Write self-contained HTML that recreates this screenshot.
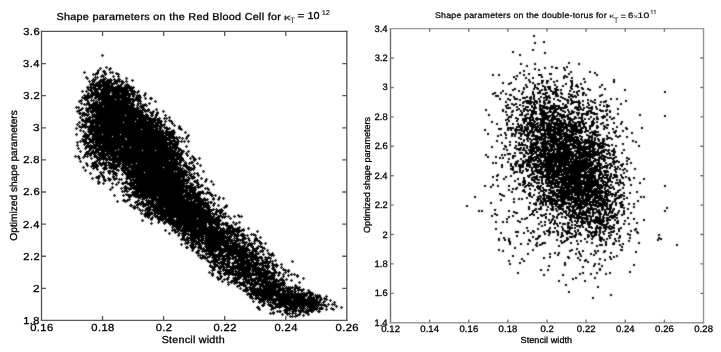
<!DOCTYPE html><html><head><meta charset="utf-8"><style>html,body{margin:0;padding:0;background:#fff;width:721px;height:352px;overflow:hidden}svg{display:block;filter:grayscale(1)}</style></head><body><svg xmlns="http://www.w3.org/2000/svg" width="721" height="352" viewBox="0 0 721 352" font-family="Liberation Sans, sans-serif" shape-rendering="crispEdges" text-rendering="geometricPrecision"><rect width="721" height="352" fill="#fff"/><defs><marker id="p" markerUnits="userSpaceOnUse" markerWidth="3" markerHeight="3" refX="1.5" refY="1.5" overflow="visible"><path d="M0 1.5h3M1.5 0v3" stroke="#000" stroke-width="1"/></marker><marker id="q" markerUnits="userSpaceOnUse" markerWidth="2" markerHeight="2" refX="0" refY="0" overflow="visible"><path d="M0 1h2" stroke="#000" stroke-width="2"/></marker><filter id="b" filterUnits="userSpaceOnUse" x="0" y="0" width="721" height="352" color-interpolation-filters="sRGB"><feConvolveMatrix order="3" kernelMatrix="1 2 1 2 12 2 1 2 1" edgeMode="duplicate"/></filter></defs><g filter="url(#b)"><path transform="translate(.5 .5)" d="M106 67 100 68 110 68 109 69 98 70 103 71 104 71 97 72 110 72 112 72 97 73 105 73 116 73 93 74 95 74 105 74 118 74 102 75 101 76 101 76 101 76 103 76 113 76 118 76 86 77 95 77 95 77 97 77 87 78 105 78 126 78 93 79 95 79 103 79 110 79 114 79 118 79 118 79 119 79 92 80 94 80 100 80 100 80 101 80 107 80 108 80 110 80 111 80 115 80 132 80 89 81 100 81 101 81 102 81 104 81 106 81 107 81 108 81 108 81 115 81 117 81 119 81 121 81 122 81 126 81 126 81 93 82 98 82 99 82 106 82 108 82 109 82 109 82 110 82 114 82 116 82 116 82 123 82 96 83 98 83 103 83 107 83 109 83 111 83 114 83 116 83 122 83 90 84 91 84 92 84 93 84 93 84 95 84 97 84 100 84 103 84 103 84 104 84 104 84 105 84 105 84 112 84 121 84 121 84 127 84 93 85 96 85 97 85 99 85 102 85 104 85 106 85 108 85 118 85 118 85 118 85 120 85 125 85 95 86 98 86 101 86 103 86 104 86 104 86 105 86 105 86 106 86 107 86 110 86 111 86 111 86 118 86 125 86 126 86 128 86 129 86 87 87 88 87 90 87 91 87 100 87 105 87 106 87 106 87 107 87 108 87 108 87 113 87 113 87 115 87 116 87 121 87 127 87 131 87 133 87 93 88 94 88 98 88 99 88 103 88 106 88 111 88 111 88 116 88 116 88 118 88 119 88 119 88 123 88 124 88 124 88 129 88 131 88 88 89 95 89 96 89 100 89 100 89 102 89 106 89 107 89 108 89 108 89 109 89 110 89 114 89 116 89 117 89 119 89 122 89 122 89 124 89 125 89 126 89 90 90 91 90 95 90 95 90 101 90 101 90 104 90 106 90 107 90 108 90 110 90 111 90 111 90 112 90 115 90 116 90 117 90 117 90 118 90 118 90 122 90 123 90 123 90 124 90 124 90 127 90 130 90 132 90 82 91 86 91 86 91 91 91 95 91 96 91 97 91 97 91 97 91 102 91 103 91 105 91 105 91 106 91 106 91 107 91 108 91 110 91 112 91 113 91 113 91 113 91 114 91 115 91 118 91 119 91 120 91 121 91 122 91 127 91 131 91 132 91 133 91 134 91 138 91 92 92 92 92 95 92 96 92 101 92 102 92 104 92 105 92 109 92 109 92 109 92 113 92 114 92 115 92 115 92 115 92 117 92 118 92 124 92 125 92 125 92 126 92 126 92 127 92 127 92 133 92 134 92 137 92 88 93 93 93 95 93 95 93 95 93 96 93 98 93 100 93 100 93 102 93 102 93 105 93 108 93 112 93 113 93 113 93 116 93 116 93 116 93 117 93 122 93 122 93 123 93 125 93 128 93 128 93 132 93 145 93 91 94 92 94 92 94 93 94 99 94 102 94 103 94 104 94 104 94 106 94 106 94 108 94 108 94 108 94 113 94 115 94 116 94 116 94 117 94 117 94 117 94 117 94 119 94 121 94 121 94 121 94 122 94 126 94 128 94 130 94 132 94 134 94 84 95 87 95 91 95 95 95 95 95 96 95 97 95 100 95 101 95 101 95 106 95 109 95 109 95 112 95 113 95 114 95 114 95 116 95 117 95 118 95 118 95 119 95 121 95 121 95 123 95 123 95 124 95 124 95 124 95 125 95 125 95 126 95 137 95 139 95 144 95 85 96 87 96 89 96 91 96 96 96 97 96 98 96 99 96 99 96 100 96 101 96 101 96 102 96 102 96 104 96 108 96 108 96 108 96 108 96 109 96 109 96 109 96 110 96 110 96 111 96 112 96 114 96 114 96 116 96 117 96 118 96 118 96 118 96 119 96 122 96 125 96 125 96 129 96 133 96 137 96 82 97 85 97 89 97 91 97 95 97 95 97 96 97 98 97 100 97 101 97 101 97 102 97 103 97 103 97 104 97 107 97 107 97 108 97 112 97 113 97 114 97 114 97 114 97 114 97 115 97 116 97 118 97 119 97 120 97 121 97 121 97 122 97 123 97 126 97 128 97 136 97 138 97 140 97 84 98 84 98 85 98 87 98 95 98 100 98 101 98 102 98 102 98 102 98 104 98 105 98 105 98 106 98 107 98 109 98 109 98 112 98 113 98 113 98 113 98 113 98 114 98 118 98 119 98 119 98 122 98 122 98 124 98 125 98 128 98 129 98 136 98 137 98 145 98 150 98 151 98 85 99 98 99 98 99 99 99 104 99 105 99 106 99 107 99 108 99 108 99 108 99 108 99 109 99 109 99 109 99 111 99 112 99 118 99 118 99 118 99 125 99 125 99 128 99 129 99 129 99 131 99 132 99 133 99 135 99 136 99 139 99 81 100 87 100 91 100 91 100 93 100 93 100 102 100 103 100 103 100 103 100 105 100 105 100 106 100 109 100 109 100 110 100 112 100 113 100 114 100 116 100 116 100 117 100 117 100 118 100 121 100 122 100 123 100 123 100 124 100 127 100 128 100 129 100 129 100 132 100 133 100 138 100 79 101 96 101 96 101 103 101 107 101 110 101 110 101 111 101 113 101 116 101 119 101 119 101 119 101 120 101 120 101 120 101 124 101 129 101 129 101 133 101 138 101 140 101 155 101 88 102 95 102 97 102 99 102 101 102 101 102 102 102 102 102 103 102 104 102 105 102 106 102 106 102 110 102 110 102 111 102 111 102 111 102 112 102 114 102 115 102 119 102 120 102 120 102 120 102 121 102 122 102 124 102 124 102 125 102 126 102 128 102 132 102 132 102 81 103 87 103 93 103 93 103 94 103 96 103 100 103 102 103 103 103 106 103 106 103 108 103 109 103 109 103 112 103 112 103 112 103 112 103 113 103 116 103 117 103 119 103 119 103 120 103 122 103 122 103 124 103 125 103 130 103 131 103 131 103 132 103 132 103 132 103 138 103 140 103 149 103 84 104 86 104 89 104 92 104 92 104 94 104 94 104 96 104 97 104 99 104 100 104 103 104 103 104 104 104 105 104 107 104 108 104 109 104 110 104 110 104 111 104 111 104 111 104 113 104 114 104 115 104 116 104 118 104 119 104 120 104 121 104 122 104 122 104 123 104 124 104 124 104 125 104 126 104 127 104 131 104 132 104 133 104 145 104 89 105 92 105 93 105 95 105 96 105 97 105 99 105 102 105 102 105 102 105 104 105 107 105 107 105 107 105 109 105 111 105 116 105 116 105 117 105 117 105 119 105 119 105 119 105 119 105 126 105 127 105 127 105 127 105 127 105 128 105 131 105 133 105 137 105 142 105 143 105 144 105 146 105 91 106 93 106 95 106 98 106 99 106 100 106 101 106 105 106 106 106 108 106 109 106 110 106 112 106 112 106 114 106 114 106 114 106 116 106 117 106 117 106 118 106 119 106 119 106 120 106 121 106 122 106 123 106 123 106 124 106 126 106 126 106 126 106 127 106 127 106 130 106 130 106 140 106 76 107 78 107 91 107 92 107 94 107 99 107 102 107 104 107 106 107 108 107 108 107 109 107 110 107 111 107 111 107 112 107 113 107 113 107 116 107 118 107 119 107 120 107 120 107 120 107 123 107 124 107 125 107 125 107 126 107 127 107 127 107 127 107 128 107 128 107 129 107 132 107 137 107 141 107 142 107 82 108 86 108 86 108 88 108 89 108 90 108 92 108 93 108 93 108 94 108 96 108 96 108 97 108 100 108 101 108 101 108 102 108 102 108 102 108 105 108 105 108 105 108 106 108 109 108 110 108 110 108 113 108 113 108 114 108 116 108 116 108 117 108 122 108 123 108 124 108 125 108 127 108 128 108 132 108 133 108 133 108 134 108 138 108 138 108 81 109 93 109 98 109 99 109 99 109 99 109 100 109 101 109 102 109 107 109 107 109 108 109 109 109 109 109 109 109 110 109 110 109 111 109 112 109 112 109 113 109 114 109 115 109 116 109 117 109 119 109 121 109 123 109 129 109 129 109 130 109 131 109 132 109 135 109 136 109 143 109 144 109 148 109 156 109 79 110 86 110 87 110 92 110 95 110 96 110 96 110 97 110 101 110 104 110 104 110 107 110 108 110 108 110 110 110 112 110 113 110 116 110 116 110 116 110 117 110 118 110 119 110 119 110 120 110 122 110 122 110 122 110 123 110 126 110 129 110 129 110 130 110 132 110 132 110 134 110 138 110 140 110 142 110 147 110 148 110 77 111 87 111 88 111 90 111 90 111 91 111 93 111 95 111 95 111 98 111 99 111 99 111 100 111 100 111 102 111 102 111 103 111 104 111 105 111 105 111 108 111 108 111 108 111 110 111 112 111 113 111 113 111 115 111 119 111 119 111 120 111 123 111 124 111 124 111 126 111 126 111 127 111 127 111 128 111 132 111 134 111 136 111 137 111 140 111 145 111 153 111 163 111 91 112 92 112 92 112 97 112 98 112 99 112 99 112 102 112 103 112 103 112 104 112 106 112 106 112 107 112 107 112 107 112 108 112 108 112 109 112 110 112 112 112 114 112 114 112 114 112 115 112 116 112 116 112 116 112 117 112 119 112 119 112 120 112 121 112 121 112 122 112 122 112 124 112 125 112 126 112 126 112 126 112 127 112 130 112 131 112 131 112 134 112 138 112 140 112 142 112 150 112 157 112 79 113 80 113 82 113 83 113 84 113 97 113 100 113 100 113 103 113 104 113 104 113 105 113 107 113 109 113 110 113 110 113 113 113 113 113 114 113 115 113 116 113 117 113 118 113 119 113 124 113 125 113 126 113 126 113 126 113 127 113 128 113 129 113 129 113 130 113 133 113 133 113 135 113 135 113 135 113 141 113 152 113 157 113 84 114 86 114 88 114 94 114 96 114 97 114 99 114 101 114 103 114 105 114 107 114 109 114 110 114 112 114 114 114 118 114 119 114 121 114 121 114 122 114 126 114 126 114 127 114 127 114 128 114 132 114 133 114 134 114 135 114 135 114 137 114 139 114 142 114 146 114 146 114 146 114 156 114 82 115 84 115 84 115 87 115 92 115 95 115 95 115 97 115 98 115 101 115 102 115 102 115 102 115 102 115 103 115 103 115 104 115 106 115 106 115 107 115 107 115 107 115 108 115 108 115 113 115 113 115 114 115 115 115 116 115 116 115 118 115 120 115 121 115 121 115 127 115 127 115 130 115 133 115 134 115 134 115 135 115 135 115 135 115 136 115 137 115 141 115 142 115 143 115 145 115 147 115 147 115 147 115 151 115 152 115 156 115 165 115 94 116 96 116 98 116 100 116 101 116 104 116 104 116 108 116 110 116 111 116 112 116 114 116 115 116 115 116 115 116 117 116 120 116 120 116 121 116 122 116 123 116 123 116 124 116 126 116 129 116 129 116 129 116 129 116 131 116 132 116 133 116 136 116 136 116 137 116 137 116 141 116 142 116 143 116 143 116 143 116 144 116 146 116 146 116 80 117 89 117 90 117 92 117 92 117 96 117 97 117 100 117 102 117 102 117 104 117 104 117 107 117 107 117 107 117 109 117 110 117 111 117 111 117 112 117 113 117 116 117 117 117 117 117 120 117 121 117 121 117 125 117 125 117 125 117 127 117 127 117 129 117 130 117 130 117 131 117 132 117 133 117 133 117 135 117 136 117 138 117 139 117 142 117 145 117 146 117 148 117 155 117 169 117 86 118 89 118 97 118 98 118 102 118 104 118 106 118 106 118 107 118 107 118 107 118 108 118 111 118 111 118 112 118 112 118 114 118 114 118 115 118 116 118 119 118 119 118 122 118 123 118 125 118 127 118 128 118 129 118 130 118 131 118 131 118 132 118 134 118 134 118 135 118 135 118 141 118 142 118 144 118 145 118 145 118 145 118 147 118 150 118 154 118 159 118 164 118 166 118 82 119 89 119 95 119 95 119 96 119 96 119 96 119 98 119 102 119 107 119 109 119 110 119 111 119 113 119 116 119 116 119 117 119 118 119 119 119 120 119 120 119 120 119 121 119 121 119 123 119 125 119 125 119 126 119 127 119 129 119 130 119 131 119 131 119 132 119 132 119 132 119 133 119 134 119 134 119 135 119 136 119 138 119 140 119 140 119 142 119 143 119 145 119 146 119 148 119 150 119 152 119 153 119 153 119 157 119 158 119 158 119 82 120 82 120 85 120 87 120 89 120 92 120 93 120 96 120 98 120 100 120 103 120 104 120 105 120 107 120 108 120 108 120 111 120 111 120 111 120 112 120 113 120 113 120 113 120 114 120 116 120 118 120 118 120 120 120 123 120 123 120 125 120 126 120 126 120 128 120 130 120 131 120 131 120 131 120 132 120 132 120 133 120 133 120 136 120 136 120 137 120 137 120 138 120 139 120 139 120 141 120 141 120 142 120 151 120 155 120 158 120 159 120 169 120 84 121 88 121 88 121 88 121 90 121 91 121 93 121 95 121 96 121 100 121 101 121 103 121 103 121 104 121 104 121 105 121 108 121 108 121 110 121 111 121 111 121 112 121 112 121 113 121 113 121 116 121 117 121 118 121 120 121 121 121 122 121 122 121 125 121 125 121 126 121 127 121 127 121 130 121 130 121 132 121 133 121 138 121 139 121 140 121 140 121 141 121 141 121 144 121 146 121 146 121 149 121 154 121 158 121 161 121 165 121 171 121 79 122 85 122 86 122 90 122 91 122 91 122 94 122 95 122 97 122 98 122 100 122 100 122 101 122 101 122 101 122 102 122 103 122 103 122 105 122 105 122 106 122 106 122 106 122 107 122 108 122 109 122 109 122 112 122 113 122 115 122 115 122 117 122 117 122 117 122 118 122 119 122 121 122 125 122 125 122 126 122 127 122 128 122 129 122 129 122 129 122 130 122 131 122 133 122 133 122 133 122 136 122 136 122 138 122 139 122 139 122 139 122 140 122 141 122 142 122 143 122 144 122 146 122 147 122 149 122 151 122 152 122 153 122 155 122 157 122 160 122 92 123 92 123 92 123 93 123 96 123 99 123 101 123 101 123 101 123 102 123 103 123 104 123 104 123 105 123 106 123 110 123 111 123 111 123 113 123 113 123 114 123 115 123 118 123 119 123 119 123 119 123 120 123 121 123 124 123 124 123 125 123 127 123 128 123 128 123 129 123 129 123 130 123 132 123 135 123 136 123 137 123 137 123 137 123 143 123 143 123 144 123 145 123 147 123 148 123 150 123 151 123 152 123 157 123 160 123 172 123 77 124 77 124 82 124 85 124 91 124 91 124 91 124 96 124 97 124 98 124 98 124 100 124 101 124 101 124 101 124 103 124 105 124 105 124 108 124 109 124 111 124 112 124 113 124 117 124 120 124 121 124 121 124 124 124 124 124 125 124 125 124 125 124 126 124 126 124 128 124 129 124 132 124 132 124 135 124 135 124 135 124 135 124 137 124 138 124 138 124 141 124 142 124 143 124 145 124 148 124 149 124 151 124 153 124 155 124 155 124 164 124 90 125 91 125 95 125 96 125 97 125 97 125 97 125 102 125 104 125 106 125 107 125 108 125 108 125 108 125 109 125 109 125 109 125 110 125 115 125 116 125 117 125 118 125 120 125 120 125 121 125 121 125 122 125 123 125 124 125 124 125 128 125 128 125 130 125 130 125 131 125 131 125 132 125 133 125 134 125 134 125 135 125 136 125 136 125 137 125 139 125 140 125 140 125 142 125 143 125 143 125 144 125 144 125 146 125 146 125 147 125 149 125 150 125 152 125 158 125 161 125 162 125 174 125 79 126 83 126 84 126 86 126 92 126 93 126 94 126 94 126 98 126 98 126 100 126 101 126 102 126 104 126 104 126 105 126 106 126 108 126 111 126 111 126 112 126 113 126 115 126 115 126 116 126 118 126 121 126 123 126 123 126 125 126 126 126 128 126 129 126 129 126 129 126 130 126 130 126 130 126 131 126 132 126 132 126 133 126 134 126 134 126 136 126 136 126 137 126 137 126 137 126 137 126 141 126 141 126 143 126 144 126 144 126 146 126 146 126 146 126 147 126 148 126 148 126 150 126 153 126 154 126 155 126 156 126 157 126 159 126 159 126 160 126 160 126 179 126 81 127 81 127 85 127 88 127 89 127 90 127 92 127 96 127 97 127 98 127 99 127 100 127 101 127 101 127 102 127 103 127 104 127 108 127 109 127 110 127 111 127 111 127 114 127 115 127 116 127 117 127 117 127 119 127 119 127 119 127 120 127 123 127 123 127 124 127 124 127 124 127 125 127 127 127 129 127 130 127 133 127 133 127 134 127 134 127 135 127 136 127 138 127 138 127 139 127 139 127 141 127 141 127 141 127 141 127 142 127 145 127 147 127 148 127 148 127 150 127 150 127 150 127 151 127 151 127 152 127 153 127 153 127 160 127 164 127 164 127 166 127 166 127 179 127 76 128 91 128 92 128 94 128 98 128 99 128 100 128 100 128 100 128 101 128 103 128 103 128 104 128 106 128 107 128 108 128 108 128 109 128 112 128 113 128 113 128 115 128 116 128 121 128 123 128 124 128 126 128 127 128 127 128 127 128 127 128 127 128 128 128 130 128 132 128 133 128 133 128 134 128 135 128 136 128 138 128 139 128 142 128 144 128 145 128 147 128 148 128 149 128 151 128 157 128 157 128 157 128 160 128 166 128 169 128 169 128 179 128 88 129 90 129 91 129 92 129 92 129 92 129 96 129 98 129 98 129 98 129 99 129 99 129 100 129 100 129 100 129 102 129 104 129 106 129 107 129 109 129 110 129 111 129 113 129 115 129 115 129 116 129 118 129 119 129 120 129 120 129 121 129 122 129 122 129 122 129 124 129 125 129 125 129 126 129 126 129 127 129 127 129 129 129 129 129 130 129 130 129 131 129 131 129 132 129 132 129 133 129 134 129 134 129 135 129 137 129 139 129 143 129 143 129 143 129 145 129 145 129 146 129 146 129 147 129 148 129 150 129 150 129 150 129 150 129 152 129 155 129 156 129 156 129 167 129 181 129 80 130 89 130 90 130 91 130 93 130 94 130 95 130 97 130 99 130 99 130 101 130 102 130 102 130 102 130 103 130 103 130 103 130 105 130 106 130 106 130 107 130 108 130 109 130 110 130 111 130 111 130 112 130 112 130 113 130 114 130 115 130 115 130 115 130 117 130 118 130 120 130 120 130 122 130 123 130 123 130 124 130 127 130 128 130 128 130 129 130 130 130 130 130 130 130 134 130 137 130 138 130 138 130 140 130 145 130 145 130 145 130 146 130 146 130 147 130 147 130 147 130 148 130 148 130 148 130 150 130 152 130 154 130 154 130 154 130 154 130 155 130 155 130 159 130 162 130 166 130 173 130 83 131 83 131 83 131 88 131 92 131 97 131 97 131 99 131 99 131 100 131 101 131 102 131 102 131 103 131 103 131 103 131 104 131 105 131 105 131 108 131 110 131 113 131 113 131 114 131 114 131 115 131 117 131 118 131 119 131 119 131 120 131 121 131 122 131 122 131 122 131 123 131 123 131 123 131 126 131 128 131 129 131 131 131 131 131 133 131 135 131 135 131 136 131 136 131 137 131 137 131 138 131 139 131 141 131 142 131 144 131 144 131 145 131 146 131 146 131 147 131 147 131 148 131 148 131 148 131 149 131 150 131 150 131 152 131 152 131 153 131 154 131 154 131 155 131 156 131 156 131 156 131 156 131 157 131 158 131 158 131 159 131 159 131 160 131 161 131 162 131 167 131 171 131 89 132 90 132 91 132 96 132 98 132 99 132 100 132 100 132 101 132 101 132 102 132 105 132 108 132 108 132 109 132 110 132 112 132 114 132 114 132 118 132 118 132 120 132 120 132 121 132 122 132 122 132 123 132 124 132 127 132 128 132 129 132 131 132 131 132 133 132 134 132 134 132 136 132 137 132 138 132 139 132 140 132 141 132 142 132 142 132 142 132 143 132 145 132 145 132 146 132 146 132 150 132 150 132 153 132 154 132 157 132 159 132 162 132 163 132 165 132 167 132 167 132 167 132 169 132 170 132 171 132 172 132 174 132 185 132 85 133 90 133 91 133 94 133 96 133 96 133 96 133 98 133 101 133 104 133 106 133 106 133 108 133 109 133 110 133 115 133 116 133 117 133 119 133 121 133 124 133 125 133 127 133 128 133 129 133 129 133 130 133 132 133 133 133 133 133 134 133 135 133 135 133 136 133 137 133 137 133 138 133 140 133 141 133 142 133 143 133 145 133 145 133 145 133 145 133 146 133 147 133 147 133 149 133 150 133 152 133 153 133 153 133 153 133 154 133 155 133 156 133 156 133 158 133 162 133 163 133 165 133 166 133 167 133 168 133 171 133 76 134 85 134 85 134 89 134 89 134 92 134 94 134 96 134 97 134 98 134 98 134 99 134 99 134 100 134 100 134 104 134 105 134 107 134 109 134 113 134 113 134 114 134 115 134 115 134 116 134 117 134 117 134 117 134 117 134 118 134 118 134 122 134 123 134 124 134 125 134 126 134 127 134 130 134 131 134 132 134 133 134 133 134 135 134 136 134 136 134 137 134 139 134 141 134 141 134 143 134 143 134 143 134 144 134 144 134 145 134 145 134 146 134 147 134 147 134 148 134 148 134 150 134 150 134 154 134 154 134 154 134 155 134 155 134 155 134 155 134 155 134 157 134 158 134 160 134 161 134 161 134 161 134 168 134 170 134 173 134 86 135 87 135 97 135 98 135 98 135 99 135 99 135 100 135 103 135 109 135 109 135 110 135 111 135 114 135 116 135 117 135 118 135 118 135 121 135 122 135 122 135 123 135 123 135 124 135 124 135 125 135 127 135 128 135 130 135 131 135 133 135 134 135 135 135 135 135 139 135 139 135 140 135 140 135 141 135 142 135 142 135 142 135 142 135 142 135 143 135 144 135 144 135 144 135 148 135 149 135 151 135 153 135 153 135 155 135 156 135 156 135 157 135 157 135 157 135 158 135 159 135 160 135 161 135 163 135 166 135 188 135 83 136 84 136 87 136 88 136 93 136 95 136 95 136 97 136 97 136 98 136 99 136 100 136 100 136 102 136 104 136 104 136 104 136 105 136 106 136 106 136 107 136 108 136 114 136 116 136 116 136 117 136 117 136 118 136 120 136 121 136 121 136 122 136 122 136 123 136 124 136 126 136 128 136 128 136 128 136 128 136 129 136 129 136 130 136 131 136 131 136 131 136 132 136 133 136 134 136 136 136 136 136 138 136 138 136 139 136 139 136 139 136 140 136 141 136 141 136 142 136 142 136 142 136 142 136 143 136 144 136 145 136 146 136 146 136 149 136 149 136 150 136 151 136 155 136 155 136 156 136 157 136 157 136 157 136 158 136 158 136 158 136 159 136 159 136 160 136 162 136 162 136 162 136 164 136 164 136 169 136 169 136 171 136 171 136 172 136 173 136 187 136 86 137 92 137 95 137 95 137 95 137 98 137 101 137 101 137 102 137 104 137 109 137 111 137 114 137 115 137 118 137 119 137 121 137 123 137 123 137 123 137 124 137 124 137 124 137 126 137 126 137 127 137 128 137 129 137 129 137 131 137 131 137 133 137 134 137 135 137 139 137 139 137 141 137 142 137 142 137 144 137 146 137 146 137 146 137 147 137 147 137 147 137 147 137 150 137 151 137 153 137 154 137 155 137 155 137 155 137 155 137 156 137 156 137 156 137 156 137 157 137 160 137 162 137 163 137 164 137 164 137 169 137 171 137 176 137 179 137 88 138 94 138 95 138 95 138 95 138 97 138 98 138 98 138 103 138 104 138 104 138 105 138 105 138 107 138 108 138 110 138 110 138 113 138 113 138 114 138 114 138 117 138 117 138 118 138 118 138 119 138 120 138 121 138 122 138 127 138 127 138 128 138 131 138 131 138 133 138 136 138 137 138 138 138 140 138 140 138 141 138 142 138 143 138 143 138 144 138 146 138 147 138 148 138 148 138 148 138 149 138 149 138 150 138 150 138 152 138 153 138 153 138 155 138 155 138 155 138 157 138 157 138 157 138 158 138 158 138 159 138 160 138 161 138 163 138 164 138 165 138 166 138 166 138 167 138 170 138 170 138 173 138 174 138 176 138 182 138 186 138 82 139 85 139 85 139 90 139 93 139 94 139 96 139 96 139 97 139 99 139 100 139 102 139 104 139 104 139 105 139 105 139 106 139 107 139 109 139 109 139 110 139 112 139 112 139 113 139 114 139 116 139 116 139 117 139 121 139 121 139 124 139 129 139 131 139 131 139 132 139 135 139 136 139 136 139 142 139 144 139 144 139 144 139 144 139 145 139 146 139 146 139 147 139 148 139 150 139 151 139 151 139 151 139 153 139 154 139 157 139 157 139 158 139 158 139 160 139 161 139 162 139 162 139 165 139 168 139 169 139 177 139 85 140 90 140 93 140 95 140 95 140 98 140 100 140 101 140 101 140 101 140 105 140 106 140 107 140 108 140 111 140 112 140 113 140 115 140 116 140 116 140 118 140 119 140 119 140 120 140 120 140 121 140 123 140 124 140 124 140 124 140 125 140 125 140 125 140 125 140 127 140 127 140 129 140 130 140 131 140 133 140 135 140 136 140 137 140 139 140 142 140 142 140 142 140 143 140 143 140 144 140 145 140 146 140 146 140 147 140 147 140 147 140 148 140 148 140 148 140 150 140 151 140 151 140 152 140 152 140 153 140 153 140 155 140 155 140 157 140 159 140 159 140 159 140 164 140 166 140 170 140 174 140 80 141 83 141 85 141 85 141 90 141 92 141 92 141 97 141 99 141 99 141 101 141 101 141 103 141 103 141 104 141 106 141 108 141 111 141 114 141 115 141 117 141 118 141 118 141 121 141 122 141 123 141 124 141 124 141 125 141 125 141 125 141 125 141 126 141 127 141 127 141 129 141 130 141 130 141 130 141 131 141 132 141 132 141 134 141 135 141 135 141 135 141 137 141 139 141 139 141 139 141 140 141 140 141 142 141 143 141 144 141 144 141 144 141 145 141 146 141 148 141 149 141 149 141 151 141 152 141 153 141 153 141 154 141 156 141 157 141 158 141 158 141 158 141 159 141 159 141 162 141 163 141 163 141 164 141 172 141 174 141 175 141 178 141 181 141 184 141 188 141 77 142 85 142 89 142 92 142 92 142 93 142 95 142 96 142 97 142 99 142 100 142 100 142 101 142 102 142 103 142 103 142 103 142 103 142 108 142 112 142 115 142 117 142 118 142 120 142 124 142 125 142 127 142 127 142 129 142 130 142 132 142 133 142 134 142 134 142 135 142 135 142 136 142 139 142 140 142 141 142 141 142 142 142 143 142 143 142 146 142 148 142 148 142 150 142 151 142 151 142 152 142 152 142 153 142 153 142 154 142 154 142 155 142 155 142 156 142 158 142 158 142 159 142 159 142 160 142 160 142 161 142 162 142 162 142 163 142 164 142 169 142 169 142 171 142 175 142 87 143 87 143 88 143 99 143 100 143 102 143 102 143 103 143 104 143 105 143 105 143 107 143 107 143 107 143 110 143 111 143 113 143 115 143 115 143 115 143 116 143 116 143 116 143 116 143 117 143 117 143 119 143 120 143 121 143 121 143 123 143 123 143 124 143 124 143 125 143 126 143 126 143 127 143 128 143 129 143 129 143 130 143 130 143 132 143 133 143 134 143 134 143 137 143 137 143 140 143 140 143 140 143 141 143 141 143 142 143 143 143 143 143 143 143 145 143 147 143 147 143 148 143 150 143 150 143 150 143 151 143 151 143 151 143 151 143 153 143 154 143 154 143 156 143 157 143 157 143 159 143 159 143 160 143 160 143 166 143 167 143 169 143 172 143 175 143 177 143 84 144 95 144 96 144 98 144 99 144 103 144 105 144 107 144 107 144 110 144 111 144 111 144 111 144 112 144 113 144 113 144 115 144 115 144 115 144 116 144 116 144 117 144 118 144 118 144 118 144 119 144 120 144 120 144 120 144 121 144 122 144 124 144 126 144 127 144 127 144 127 144 128 144 129 144 130 144 130 144 130 144 130 144 132 144 133 144 133 144 133 144 134 144 135 144 136 144 136 144 137 144 137 144 138 144 141 144 142 144 145 144 145 144 146 144 146 144 147 144 147 144 147 144 148 144 148 144 148 144 151 144 152 144 153 144 153 144 154 144 157 144 158 144 158 144 159 144 159 144 162 144 162 144 162 144 163 144 163 144 164 144 167 144 169 144 170 144 172 144 172 144 172 144 177 144 77 145 88 145 90 145 93 145 94 145 96 145 96 145 97 145 100 145 104 145 104 145 104 145 104 145 106 145 107 145 108 145 108 145 108 145 109 145 111 145 111 145 116 145 117 145 117 145 117 145 117 145 118 145 118 145 119 145 119 145 119 145 120 145 121 145 123 145 123 145 123 145 124 145 126 145 127 145 128 145 128 145 130 145 131 145 135 145 137 145 137 145 141 145 141 145 141 145 141 145 142 145 142 145 143 145 144 145 144 145 145 145 145 145 147 145 150 145 151 145 152 145 153 145 153 145 154 145 155 145 155 145 156 145 157 145 158 145 161 145 162 145 164 145 166 145 169 145 174 145 174 145 175 145 86 146 87 146 92 146 95 146 96 146 99 146 100 146 101 146 102 146 106 146 106 146 106 146 108 146 110 146 111 146 113 146 113 146 114 146 116 146 116 146 116 146 118 146 120 146 126 146 127 146 128 146 128 146 128 146 131 146 131 146 132 146 133 146 133 146 134 146 134 146 135 146 135 146 135 146 136 146 137 146 139 146 140 146 140 146 140 146 140 146 141 146 143 146 144 146 144 146 145 146 145 146 146 146 148 146 148 146 149 146 149 146 150 146 150 146 151 146 151 146 151 146 152 146 153 146 154 146 154 146 154 146 155 146 157 146 157 146 157 146 158 146 159 146 160 146 161 146 161 146 162 146 163 146 163 146 164 146 165 146 166 146 166 146 170 146 170 146 172 146 172 146 175 146 176 146 186 146 89 147 89 147 90 147 91 147 95 147 99 147 99 147 100 147 100 147 100 147 102 147 102 147 102 147 103 147 106 147 106 147 108 147 108 147 110 147 113 147 114 147 116 147 117 147 118 147 124 147 126 147 133 147 136 147 136 147 137 147 138 147 139 147 139 147 140 147 141 147 141 147 141 147 144 147 144 147 144 147 147 147 148 147 149 147 151 147 151 147 151 147 151 147 152 147 152 147 152 147 153 147 155 147 155 147 155 147 155 147 156 147 156 147 158 147 159 147 159 147 159 147 159 147 162 147 163 147 163 147 165 147 166 147 171 147 173 147 177 147 78 148 85 148 90 148 93 148 95 148 98 148 99 148 99 148 99 148 100 148 101 148 104 148 105 148 106 148 108 148 112 148 115 148 116 148 116 148 117 148 119 148 119 148 119 148 119 148 120 148 120 148 120 148 120 148 121 148 122 148 124 148 125 148 126 148 126 148 127 148 129 148 132 148 134 148 134 148 137 148 137 148 137 148 137 148 138 148 138 148 141 148 142 148 142 148 142 148 142 148 143 148 145 148 146 148 148 148 148 148 148 148 150 148 150 148 151 148 151 148 152 148 153 148 154 148 154 148 156 148 157 148 157 148 157 148 157 148 159 148 159 148 165 148 166 148 168 148 169 148 170 148 172 148 175 148 175 148 178 148 178 148 90 149 96 149 99 149 99 149 100 149 101 149 103 149 106 149 106 149 107 149 107 149 109 149 111 149 112 149 114 149 121 149 121 149 125 149 126 149 129 149 130 149 131 149 132 149 134 149 134 149 135 149 137 149 137 149 140 149 140 149 141 149 141 149 146 149 146 149 146 149 147 149 147 149 147 149 148 149 148 149 148 149 150 149 151 149 151 149 152 149 153 149 153 149 154 149 154 149 156 149 158 149 160 149 161 149 161 149 162 149 163 149 166 149 167 149 167 149 168 149 168 149 171 149 171 149 175 149 179 149 180 149 89 150 96 150 97 150 101 150 102 150 102 150 103 150 104 150 105 150 106 150 106 150 108 150 110 150 113 150 117 150 119 150 120 150 120 150 122 150 122 150 123 150 123 150 123 150 125 150 129 150 129 150 130 150 130 150 130 150 134 150 134 150 134 150 137 150 137 150 138 150 144 150 145 150 146 150 147 150 147 150 149 150 149 150 151 150 152 150 152 150 157 150 157 150 157 150 158 150 160 150 161 150 162 150 165 150 165 150 166 150 166 150 167 150 168 150 169 150 172 150 174 150 175 150 181 150 80 151 88 151 92 151 93 151 95 151 96 151 97 151 97 151 104 151 104 151 106 151 108 151 109 151 111 151 113 151 116 151 118 151 119 151 121 151 121 151 122 151 123 151 126 151 127 151 130 151 130 151 131 151 133 151 134 151 135 151 135 151 135 151 136 151 136 151 136 151 137 151 138 151 140 151 140 151 140 151 140 151 143 151 143 151 143 151 144 151 145 151 145 151 147 151 148 151 149 151 152 151 153 151 154 151 158 151 159 151 162 151 163 151 164 151 165 151 168 151 168 151 170 151 171 151 172 151 172 151 173 151 174 151 174 151 178 151 183 151 188 151 86 152 92 152 94 152 95 152 98 152 98 152 98 152 101 152 103 152 107 152 110 152 110 152 111 152 113 152 113 152 114 152 115 152 115 152 117 152 118 152 121 152 121 152 125 152 125 152 125 152 126 152 126 152 129 152 129 152 130 152 130 152 131 152 131 152 131 152 131 152 132 152 135 152 135 152 135 152 136 152 136 152 136 152 139 152 139 152 139 152 140 152 141 152 144 152 145 152 145 152 149 152 150 152 150 152 151 152 152 152 153 152 155 152 155 152 156 152 158 152 159 152 159 152 161 152 161 152 161 152 163 152 164 152 164 152 164 152 165 152 168 152 173 152 174 152 175 152 181 152 87 153 90 153 93 153 93 153 94 153 94 153 95 153 99 153 101 153 103 153 103 153 104 153 106 153 109 153 113 153 115 153 116 153 116 153 117 153 117 153 119 153 119 153 120 153 120 153 123 153 123 153 123 153 124 153 124 153 124 153 124 153 126 153 130 153 133 153 134 153 135 153 138 153 138 153 138 153 142 153 143 153 145 153 146 153 147 153 148 153 149 153 149 153 149 153 156 153 156 153 157 153 160 153 160 153 160 153 161 153 162 153 162 153 163 153 163 153 163 153 164 153 166 153 166 153 168 153 170 153 170 153 171 153 173 153 177 153 181 153 186 153 85 154 87 154 90 154 98 154 99 154 100 154 103 154 103 154 103 154 104 154 105 154 106 154 106 154 106 154 107 154 108 154 108 154 108 154 111 154 111 154 112 154 112 154 113 154 113 154 113 154 114 154 115 154 116 154 116 154 117 154 119 154 120 154 120 154 121 154 122 154 125 154 126 154 126 154 126 154 127 154 128 154 129 154 130 154 133 154 135 154 136 154 136 154 136 154 136 154 137 154 138 154 139 154 140 154 141 154 142 154 142 154 143 154 143 154 143 154 146 154 147 154 147 154 147 154 148 154 149 154 150 154 151 154 152 154 153 154 154 154 154 154 155 154 156 154 156 154 157 154 158 154 158 154 161 154 162 154 162 154 164 154 165 154 166 154 166 154 167 154 167 154 170 154 172 154 173 154 174 154 176 154 179 154 181 154 90 155 95 155 102 155 111 155 113 155 115 155 118 155 119 155 121 155 121 155 123 155 123 155 123 155 125 155 125 155 125 155 126 155 126 155 126 155 127 155 130 155 131 155 133 155 134 155 134 155 137 155 139 155 140 155 141 155 141 155 141 155 142 155 142 155 143 155 143 155 144 155 145 155 145 155 146 155 148 155 149 155 152 155 154 155 155 155 155 155 156 155 157 155 157 155 158 155 158 155 159 155 161 155 162 155 162 155 163 155 164 155 165 155 165 155 166 155 166 155 166 155 169 155 170 155 170 155 173 155 174 155 174 155 174 155 176 155 177 155 177 155 179 155 179 155 179 155 179 155 187 155 75 156 78 156 84 156 87 156 94 156 100 156 103 156 103 156 108 156 110 156 110 156 110 156 112 156 115 156 119 156 123 156 128 156 128 156 130 156 130 156 131 156 132 156 134 156 134 156 135 156 135 156 136 156 136 156 137 156 138 156 139 156 139 156 141 156 141 156 143 156 143 156 145 156 146 156 147 156 150 156 152 156 153 156 155 156 155 156 157 156 157 156 160 156 160 156 160 156 161 156 164 156 166 156 166 156 168 156 169 156 169 156 171 156 172 156 173 156 173 156 174 156 174 156 174 156 178 156 180 156 192 156 83 157 96 157 97 157 99 157 103 157 104 157 105 157 105 157 115 157 116 157 116 157 118 157 118 157 119 157 120 157 121 157 122 157 122 157 123 157 126 157 127 157 128 157 130 157 130 157 133 157 134 157 137 157 138 157 141 157 142 157 144 157 147 157 147 157 148 157 148 157 148 157 148 157 150 157 151 157 152 157 154 157 156 157 158 157 159 157 159 157 161 157 161 157 161 157 163 157 163 157 165 157 166 157 167 157 167 157 168 157 169 157 169 157 170 157 172 157 172 157 173 157 178 157 178 157 179 157 193 157 79 158 91 158 97 158 99 158 100 158 101 158 102 158 104 158 106 158 108 158 109 158 109 158 110 158 112 158 112 158 113 158 113 158 114 158 115 158 116 158 118 158 119 158 120 158 121 158 122 158 122 158 124 158 124 158 125 158 126 158 127 158 129 158 130 158 130 158 131 158 132 158 132 158 134 158 135 158 135 158 136 158 136 158 137 158 137 158 138 158 138 158 139 158 140 158 141 158 141 158 142 158 143 158 145 158 146 158 146 158 148 158 149 158 150 158 151 158 152 158 155 158 155 158 156 158 156 158 156 158 156 158 157 158 157 158 157 158 158 158 159 158 159 158 164 158 165 158 166 158 166 158 167 158 167 158 167 158 169 158 169 158 170 158 170 158 171 158 173 158 173 158 173 158 174 158 174 158 176 158 177 158 178 158 178 158 179 158 181 158 182 158 182 158 190 158 194 158 199 158 98 159 103 159 103 159 105 159 106 159 109 159 110 159 110 159 113 159 113 159 114 159 114 159 116 159 116 159 117 159 117 159 117 159 120 159 124 159 124 159 125 159 125 159 126 159 127 159 130 159 133 159 133 159 134 159 135 159 135 159 136 159 137 159 138 159 139 159 139 159 141 159 141 159 142 159 142 159 145 159 145 159 145 159 146 159 146 159 147 159 148 159 151 159 152 159 152 159 153 159 153 159 153 159 154 159 156 159 156 159 157 159 161 159 161 159 162 159 162 159 164 159 166 159 166 159 167 159 168 159 168 159 170 159 171 159 172 159 173 159 174 159 194 159 195 159 97 160 99 160 106 160 112 160 113 160 119 160 121 160 121 160 122 160 123 160 123 160 124 160 125 160 125 160 128 160 128 160 129 160 130 160 130 160 130 160 131 160 135 160 136 160 136 160 139 160 140 160 141 160 142 160 143 160 143 160 144 160 144 160 145 160 145 160 146 160 146 160 146 160 146 160 147 160 149 160 149 160 149 160 151 160 152 160 152 160 153 160 153 160 155 160 156 160 158 160 158 160 158 160 159 160 159 160 160 160 160 160 160 160 165 160 165 160 171 160 172 160 174 160 174 160 176 160 176 160 176 160 180 160 183 160 194 160 80 161 96 161 113 161 115 161 117 161 118 161 120 161 120 161 123 161 123 161 126 161 126 161 127 161 127 161 128 161 129 161 132 161 134 161 135 161 136 161 138 161 141 161 141 161 144 161 144 161 144 161 145 161 146 161 146 161 147 161 147 161 148 161 150 161 150 161 152 161 153 161 154 161 156 161 157 161 158 161 158 161 159 161 159 161 161 161 161 161 162 161 162 161 163 161 163 161 165 161 166 161 168 161 170 161 172 161 172 161 172 161 173 161 174 161 175 161 175 161 176 161 180 161 94 162 99 162 103 162 106 162 108 162 113 162 113 162 114 162 117 162 117 162 118 162 123 162 123 162 123 162 125 162 128 162 129 162 132 162 132 162 135 162 138 162 139 162 140 162 140 162 140 162 141 162 141 162 141 162 143 162 143 162 144 162 145 162 145 162 148 162 149 162 151 162 151 162 152 162 153 162 153 162 154 162 154 162 155 162 155 162 155 162 156 162 159 162 159 162 161 162 162 162 163 162 163 162 164 162 164 162 165 162 165 162 165 162 166 162 166 162 166 162 168 162 172 162 173 162 174 162 176 162 176 162 176 162 179 162 180 162 180 162 185 162 191 162 191 162 192 162 86 163 92 163 95 163 99 163 100 163 102 163 110 163 112 163 113 163 119 163 120 163 120 163 122 163 126 163 128 163 128 163 129 163 129 163 129 163 130 163 132 163 133 163 134 163 134 163 138 163 139 163 139 163 140 163 140 163 140 163 141 163 143 163 145 163 146 163 146 163 148 163 149 163 150 163 151 163 151 163 153 163 154 163 155 163 156 163 156 163 156 163 158 163 158 163 159 163 160 163 160 163 160 163 160 163 164 163 164 163 166 163 166 163 168 163 168 163 169 163 170 163 170 163 171 163 171 163 171 163 173 163 175 163 178 163 178 163 179 163 185 163 189 163 197 163 95 164 104 164 105 164 109 164 111 164 113 164 114 164 117 164 123 164 124 164 124 164 126 164 126 164 128 164 128 164 137 164 138 164 138 164 138 164 138 164 139 164 140 164 141 164 142 164 142 164 143 164 144 164 144 164 145 164 145 164 146 164 148 164 148 164 148 164 149 164 149 164 150 164 152 164 155 164 156 164 157 164 158 164 161 164 161 164 161 164 162 164 162 164 163 164 164 164 165 164 165 164 166 164 166 164 167 164 168 164 168 164 168 164 170 164 171 164 172 164 175 164 175 164 176 164 179 164 179 164 87 165 93 165 97 165 101 165 106 165 106 165 109 165 110 165 113 165 114 165 117 165 118 165 118 165 122 165 125 165 125 165 128 165 128 165 130 165 132 165 133 165 135 165 136 165 137 165 138 165 138 165 139 165 139 165 141 165 142 165 145 165 145 165 145 165 146 165 148 165 149 165 149 165 149 165 150 165 150 165 150 165 151 165 151 165 152 165 154 165 155 165 155 165 156 165 156 165 156 165 156 165 157 165 158 165 159 165 159 165 161 165 161 165 161 165 161 165 165 165 166 165 166 165 167 165 167 165 169 165 171 165 171 165 173 165 174 165 174 165 174 165 174 165 175 165 176 165 180 165 183 165 184 165 185 165 186 165 186 165 193 165 200 165 91 166 95 166 95 166 97 166 105 166 112 166 114 166 116 166 116 166 117 166 119 166 124 166 125 166 129 166 129 166 131 166 131 166 132 166 133 166 134 166 136 166 136 166 137 166 139 166 143 166 146 166 147 166 147 166 149 166 150 166 152 166 153 166 153 166 154 166 155 166 156 166 156 166 157 166 158 166 158 166 160 166 160 166 160 166 161 166 162 166 162 166 162 166 164 166 167 166 169 166 169 166 169 166 169 166 170 166 170 166 171 166 172 166 173 166 173 166 174 166 177 166 185 166 187 166 187 166 83 167 94 167 96 167 109 167 116 167 122 167 123 167 124 167 125 167 126 167 128 167 130 167 131 167 131 167 132 167 133 167 135 167 135 167 136 167 137 167 137 167 138 167 140 167 140 167 142 167 142 167 143 167 144 167 145 167 147 167 148 167 148 167 148 167 149 167 150 167 150 167 152 167 152 167 155 167 155 167 157 167 159 167 160 167 160 167 160 167 161 167 165 167 166 167 167 167 168 167 168 167 169 167 170 167 171 167 172 167 176 167 177 167 186 167 186 167 189 167 194 167 93 168 103 168 104 168 105 168 106 168 111 168 113 168 114 168 121 168 121 168 123 168 125 168 125 168 126 168 126 168 132 168 132 168 133 168 135 168 135 168 136 168 137 168 137 168 138 168 138 168 138 168 140 168 141 168 141 168 141 168 146 168 149 168 151 168 151 168 151 168 153 168 154 168 154 168 157 168 157 168 158 168 158 168 160 168 161 168 161 168 164 168 166 168 169 168 169 168 169 168 170 168 171 168 171 168 175 168 175 168 175 168 179 168 180 168 180 168 182 168 188 168 188 168 189 168 191 168 97 169 104 169 116 169 116 169 122 169 127 169 135 169 136 169 137 169 137 169 138 169 139 169 140 169 140 169 140 169 142 169 142 169 142 169 143 169 144 169 144 169 144 169 144 169 145 169 145 169 146 169 147 169 148 169 149 169 149 169 149 169 150 169 150 169 151 169 151 169 152 169 153 169 154 169 154 169 155 169 155 169 155 169 156 169 157 169 157 169 158 169 159 169 160 169 161 169 162 169 166 169 167 169 170 169 171 169 171 169 171 169 171 169 172 169 172 169 173 169 174 169 175 169 175 169 177 169 178 169 178 169 179 169 180 169 181 169 188 169 189 169 191 169 193 169 85 170 118 170 122 170 123 170 124 170 125 170 125 170 129 170 131 170 132 170 133 170 134 170 136 170 137 170 137 170 137 170 138 170 138 170 138 170 140 170 142 170 143 170 145 170 145 170 146 170 147 170 148 170 150 170 152 170 152 170 153 170 154 170 154 170 154 170 155 170 156 170 156 170 158 170 159 170 159 170 159 170 160 170 164 170 165 170 166 170 167 170 168 170 168 170 169 170 170 170 170 170 173 170 173 170 173 170 175 170 175 170 178 170 179 170 180 170 180 170 182 170 184 170 189 170 189 170 108 171 109 171 110 171 112 171 113 171 123 171 123 171 129 171 132 171 132 171 134 171 137 171 138 171 138 171 139 171 139 171 141 171 141 171 142 171 142 171 143 171 143 171 146 171 147 171 147 171 147 171 148 171 148 171 149 171 150 171 150 171 151 171 152 171 153 171 155 171 155 171 156 171 156 171 157 171 158 171 160 171 162 171 162 171 164 171 166 171 167 171 168 171 168 171 169 171 169 171 170 171 171 171 171 171 172 171 172 171 178 171 178 171 180 171 181 171 186 171 203 171 100 172 103 172 113 172 114 172 114 172 124 172 127 172 128 172 131 172 133 172 133 172 136 172 136 172 136 172 137 172 138 172 138 172 140 172 141 172 146 172 147 172 148 172 149 172 150 172 150 172 151 172 153 172 156 172 159 172 160 172 162 172 164 172 165 172 165 172 166 172 166 172 167 172 167 172 167 172 168 172 170 172 170 172 171 172 171 172 173 172 177 172 178 172 178 172 183 172 185 172 186 172 189 172 90 173 109 173 115 173 116 173 126 173 126 173 127 173 129 173 133 173 133 173 135 173 138 173 138 173 141 173 143 173 146 173 147 173 148 173 150 173 152 173 154 173 155 173 155 173 156 173 157 173 159 173 161 173 162 173 163 173 163 173 164 173 165 173 166 173 166 173 168 173 168 173 169 173 169 173 171 173 172 173 172 173 172 173 175 173 175 173 177 173 177 173 178 173 179 173 179 173 179 173 179 173 180 173 182 173 194 173 197 173 101 174 113 174 122 174 126 174 128 174 132 174 133 174 133 174 134 174 135 174 136 174 137 174 139 174 139 174 143 174 144 174 144 174 144 174 144 174 145 174 145 174 145 174 145 174 146 174 148 174 149 174 151 174 151 174 153 174 154 174 155 174 156 174 156 174 158 174 158 174 158 174 158 174 159 174 160 174 161 174 163 174 164 174 164 174 166 174 167 174 168 174 168 174 169 174 170 174 170 174 170 174 170 174 174 174 175 174 179 174 180 174 180 174 181 174 181 174 182 174 182 174 183 174 183 174 183 174 184 174 184 174 185 174 186 174 189 174 191 174 191 174 102 175 102 175 116 175 129 175 129 175 130 175 131 175 136 175 136 175 136 175 137 175 137 175 139 175 140 175 141 175 143 175 143 175 144 175 145 175 147 175 148 175 148 175 149 175 149 175 151 175 151 175 151 175 152 175 153 175 154 175 155 175 156 175 157 175 157 175 158 175 158 175 158 175 158 175 158 175 159 175 161 175 161 175 161 175 162 175 162 175 165 175 167 175 167 175 167 175 168 175 168 175 168 175 169 175 171 175 172 175 173 175 174 175 175 175 175 175 177 175 177 175 179 175 180 175 180 175 182 175 184 175 186 175 190 175 198 175 98 176 99 176 103 176 113 176 127 176 128 176 129 176 129 176 130 176 131 176 132 176 134 176 134 176 136 176 139 176 139 176 147 176 148 176 148 176 148 176 148 176 149 176 151 176 152 176 152 176 152 176 153 176 153 176 156 176 157 176 158 176 158 176 159 176 160 176 161 176 161 176 162 176 163 176 163 176 163 176 165 176 168 176 169 176 169 176 170 176 173 176 173 176 174 176 175 176 176 176 179 176 180 176 180 176 181 176 182 176 182 176 183 176 183 176 183 176 191 176 193 176 96 177 103 177 113 177 132 177 133 177 135 177 137 177 139 177 140 177 140 177 141 177 142 177 143 177 143 177 144 177 144 177 145 177 145 177 146 177 147 177 148 177 149 177 149 177 149 177 152 177 152 177 152 177 153 177 153 177 155 177 157 177 159 177 160 177 163 177 164 177 164 177 167 177 167 177 169 177 169 177 170 177 170 177 171 177 172 177 173 177 175 177 177 177 177 177 177 177 182 177 183 177 188 177 194 177 92 178 98 178 108 178 116 178 126 178 127 178 129 178 137 178 138 178 143 178 143 178 145 178 145 178 146 178 147 178 149 178 154 178 157 178 157 178 157 178 157 178 160 178 160 178 160 178 161 178 161 178 162 178 162 178 163 178 166 178 166 178 166 178 167 178 172 178 174 178 176 178 177 178 177 178 178 178 179 178 189 178 192 178 201 178 104 179 110 179 110 179 114 179 119 179 121 179 130 179 132 179 135 179 136 179 136 179 137 179 139 179 139 179 140 179 140 179 142 179 142 179 142 179 143 179 143 179 146 179 146 179 146 179 147 179 148 179 149 179 149 179 150 179 151 179 151 179 153 179 153 179 154 179 155 179 156 179 158 179 159 179 160 179 160 179 160 179 161 179 161 179 161 179 164 179 166 179 169 179 170 179 170 179 170 179 170 179 171 179 171 179 172 179 173 179 174 179 175 179 175 179 176 179 176 179 177 179 177 179 178 179 180 179 184 179 186 179 206 179 104 180 105 180 109 180 131 180 133 180 134 180 134 180 137 180 139 180 140 180 140 180 141 180 142 180 144 180 144 180 145 180 145 180 146 180 147 180 147 180 147 180 148 180 148 180 149 180 149 180 151 180 151 180 151 180 152 180 153 180 153 180 154 180 156 180 156 180 156 180 158 180 158 180 161 180 161 180 163 180 164 180 165 180 165 180 165 180 166 180 166 180 167 180 171 180 174 180 175 180 180 180 182 180 182 180 183 180 184 180 188 180 188 180 197 180 98 181 126 181 135 181 136 181 137 181 143 181 143 181 144 181 147 181 148 181 148 181 149 181 149 181 149 181 151 181 151 181 152 181 152 181 153 181 153 181 154 181 154 181 155 181 157 181 158 181 158 181 159 181 163 181 164 181 166 181 166 181 168 181 173 181 175 181 177 181 177 181 178 181 183 181 184 181 184 181 186 181 194 181 195 181 205 181 211 181 99 182 118 182 125 182 130 182 131 182 133 182 137 182 138 182 139 182 139 182 140 182 140 182 141 182 142 182 142 182 143 182 143 182 143 182 144 182 144 182 145 182 147 182 148 182 148 182 149 182 151 182 152 182 154 182 155 182 158 182 158 182 159 182 160 182 161 182 162 182 162 182 163 182 163 182 164 182 164 182 166 182 167 182 168 182 169 182 170 182 170 182 172 182 172 182 173 182 174 182 175 182 175 182 177 182 178 182 178 182 179 182 181 182 182 182 182 182 187 182 197 182 98 183 103 183 112 183 122 183 123 183 127 183 133 183 133 183 136 183 138 183 138 183 139 183 140 183 144 183 145 183 147 183 148 183 148 183 149 183 149 183 149 183 150 183 151 183 151 183 151 183 151 183 152 183 152 183 153 183 153 183 157 183 158 183 158 183 159 183 160 183 160 183 160 183 161 183 162 183 162 183 162 183 163 183 164 183 164 183 166 183 166 183 168 183 169 183 170 183 171 183 172 183 172 183 173 183 173 183 174 183 174 183 175 183 175 183 177 183 178 183 183 183 183 183 184 183 184 183 186 183 190 183 197 183 116 184 129 184 131 184 133 184 137 184 139 184 140 184 141 184 144 184 145 184 146 184 146 184 148 184 148 184 148 184 149 184 150 184 150 184 150 184 150 184 150 184 151 184 151 184 153 184 154 184 154 184 155 184 156 184 157 184 157 184 158 184 158 184 159 184 160 184 161 184 162 184 162 184 163 184 164 184 166 184 166 184 166 184 168 184 168 184 169 184 169 184 170 184 171 184 171 184 172 184 174 184 177 184 178 184 179 184 179 184 180 184 182 184 182 184 182 184 182 184 182 184 183 184 191 184 192 184 198 184 213 184 130 185 131 185 133 185 136 185 138 185 143 185 144 185 144 185 144 185 146 185 147 185 148 185 148 185 152 185 152 185 153 185 154 185 155 185 158 185 158 185 161 185 161 185 162 185 162 185 165 185 165 185 165 185 166 185 167 185 167 185 170 185 171 185 171 185 172 185 173 185 174 185 176 185 179 185 181 185 184 185 192 185 197 185 201 185 202 185 125 186 131 186 131 186 131 186 132 186 132 186 134 186 135 186 139 186 139 186 142 186 142 186 143 186 144 186 146 186 146 186 147 186 148 186 149 186 152 186 153 186 154 186 156 186 156 186 156 186 156 186 161 186 162 186 163 186 163 186 163 186 164 186 168 186 169 186 170 186 172 186 173 186 173 186 173 186 174 186 176 186 176 186 176 186 178 186 178 186 178 186 179 186 181 186 185 186 185 186 186 186 187 186 188 186 189 186 190 186 200 186 112 187 124 187 126 187 131 187 132 187 132 187 137 187 139 187 141 187 143 187 144 187 144 187 145 187 145 187 147 187 148 187 150 187 150 187 151 187 151 187 152 187 153 187 153 187 155 187 155 187 156 187 156 187 157 187 157 187 157 187 159 187 159 187 159 187 160 187 162 187 162 187 171 187 173 187 173 187 174 187 174 187 178 187 179 187 180 187 181 187 183 187 185 187 185 187 187 187 188 187 188 187 188 187 190 187 192 187 194 187 195 187 198 187 121 188 121 188 128 188 131 188 133 188 137 188 138 188 139 188 139 188 139 188 140 188 142 188 145 188 147 188 148 188 149 188 149 188 149 188 149 188 150 188 152 188 158 188 158 188 161 188 162 188 164 188 165 188 166 188 167 188 168 188 169 188 171 188 173 188 174 188 174 188 174 188 176 188 177 188 179 188 179 188 180 188 180 188 181 188 181 188 186 188 189 188 192 188 193 188 205 188 207 188 110 189 125 189 129 189 129 189 135 189 136 189 136 189 137 189 138 189 139 189 140 189 141 189 143 189 144 189 145 189 146 189 147 189 147 189 149 189 149 189 149 189 149 189 151 189 153 189 153 189 154 189 154 189 155 189 155 189 156 189 157 189 157 189 158 189 158 189 159 189 160 189 160 189 165 189 165 189 167 189 167 189 168 189 168 189 169 189 171 189 173 189 174 189 179 189 180 189 180 189 181 189 182 189 183 189 183 189 185 189 186 189 195 189 195 189 208 189 125 190 138 190 144 190 145 190 146 190 147 190 147 190 148 190 149 190 153 190 154 190 155 190 155 190 156 190 158 190 158 190 160 190 162 190 162 190 163 190 163 190 163 190 165 190 166 190 166 190 167 190 168 190 170 190 170 190 172 190 174 190 174 190 177 190 177 190 179 190 180 190 180 190 180 190 180 190 181 190 185 190 185 190 185 190 186 190 187 190 187 190 187 190 190 190 191 190 193 190 122 191 124 191 127 191 127 191 135 191 135 191 138 191 139 191 139 191 140 191 141 191 142 191 143 191 143 191 143 191 144 191 146 191 147 191 148 191 148 191 148 191 150 191 150 191 151 191 151 191 151 191 152 191 153 191 153 191 154 191 157 191 157 191 160 191 161 191 164 191 165 191 165 191 165 191 166 191 166 191 167 191 170 191 171 191 172 191 172 191 172 191 173 191 174 191 175 191 175 191 176 191 176 191 178 191 178 191 178 191 180 191 181 191 181 191 181 191 182 191 183 191 184 191 184 191 184 191 185 191 186 191 190 191 194 191 202 191 132 192 133 192 140 192 140 192 141 192 141 192 143 192 146 192 146 192 146 192 147 192 147 192 150 192 150 192 153 192 153 192 154 192 154 192 155 192 156 192 157 192 158 192 158 192 159 192 159 192 161 192 161 192 162 192 162 192 162 192 164 192 164 192 165 192 166 192 166 192 166 192 166 192 169 192 171 192 171 192 171 192 171 192 172 192 174 192 174 192 174 192 175 192 176 192 177 192 181 192 183 192 183 192 187 192 190 192 190 192 192 192 198 192 199 192 200 192 200 192 207 192 209 192 134 193 134 193 136 193 137 193 142 193 146 193 148 193 148 193 148 193 150 193 154 193 155 193 156 193 157 193 157 193 158 193 158 193 158 193 160 193 160 193 161 193 162 193 162 193 163 193 163 193 167 193 167 193 168 193 168 193 169 193 169 193 169 193 170 193 170 193 170 193 171 193 173 193 173 193 173 193 174 193 174 193 174 193 177 193 177 193 177 193 177 193 178 193 179 193 182 193 188 193 188 193 189 193 194 193 194 193 195 193 198 193 200 193 203 193 206 193 209 193 209 193 209 193 126 194 132 194 134 194 140 194 143 194 144 194 144 194 145 194 148 194 149 194 151 194 151 194 152 194 153 194 153 194 154 194 154 194 155 194 158 194 159 194 160 194 160 194 160 194 161 194 162 194 162 194 163 194 164 194 164 194 165 194 167 194 169 194 170 194 171 194 172 194 172 194 173 194 175 194 176 194 179 194 180 194 180 194 180 194 185 194 185 194 186 194 187 194 189 194 190 194 190 194 192 194 192 194 193 194 196 194 198 194 211 194 114 195 123 195 128 195 129 195 130 195 133 195 138 195 140 195 141 195 143 195 144 195 146 195 149 195 149 195 150 195 151 195 152 195 152 195 155 195 157 195 158 195 158 195 158 195 161 195 161 195 162 195 162 195 163 195 163 195 165 195 167 195 169 195 171 195 173 195 173 195 174 195 175 195 176 195 176 195 176 195 181 195 184 195 185 195 185 195 185 195 186 195 187 195 189 195 190 195 192 195 192 195 193 195 194 195 194 195 195 195 196 195 199 195 211 195 212 195 215 195 130 196 135 196 136 196 139 196 141 196 142 196 145 196 146 196 147 196 148 196 149 196 149 196 151 196 152 196 152 196 152 196 153 196 153 196 154 196 154 196 155 196 156 196 156 196 158 196 158 196 159 196 159 196 159 196 160 196 160 196 161 196 163 196 163 196 165 196 167 196 168 196 168 196 169 196 169 196 170 196 170 196 170 196 171 196 171 196 171 196 172 196 172 196 172 196 174 196 176 196 177 196 178 196 180 196 181 196 181 196 184 196 185 196 187 196 188 196 188 196 188 196 190 196 195 196 197 196 129 197 138 197 139 197 139 197 140 197 144 197 146 197 146 197 149 197 150 197 150 197 150 197 151 197 151 197 152 197 152 197 152 197 155 197 159 197 160 197 161 197 162 197 163 197 163 197 163 197 164 197 164 197 164 197 166 197 167 197 169 197 170 197 172 197 173 197 175 197 175 197 177 197 178 197 180 197 180 197 182 197 182 197 182 197 183 197 186 197 191 197 193 197 197 197 198 197 219 197 144 198 146 198 146 198 146 198 152 198 154 198 154 198 155 198 155 198 158 198 158 198 159 198 159 198 160 198 160 198 160 198 160 198 162 198 163 198 164 198 164 198 166 198 166 198 166 198 168 198 169 198 169 198 171 198 174 198 176 198 176 198 177 198 177 198 177 198 177 198 180 198 180 198 182 198 182 198 187 198 187 198 187 198 189 198 191 198 194 198 194 198 194 198 195 198 195 198 198 198 200 198 200 198 204 198 213 198 223 198 129 199 142 199 152 199 152 199 155 199 157 199 158 199 160 199 163 199 164 199 165 199 165 199 166 199 167 199 167 199 168 199 168 199 169 199 169 199 169 199 170 199 170 199 170 199 170 199 170 199 173 199 173 199 173 199 175 199 177 199 178 199 180 199 181 199 181 199 183 199 183 199 183 199 184 199 186 199 186 199 187 199 188 199 190 199 191 199 197 199 200 199 201 199 205 199 207 199 213 199 218 199 123 200 124 200 127 200 138 200 146 200 146 200 148 200 148 200 152 200 152 200 155 200 158 200 160 200 162 200 162 200 163 200 164 200 165 200 165 200 165 200 167 200 171 200 173 200 173 200 173 200 174 200 174 200 174 200 174 200 176 200 177 200 178 200 178 200 178 200 180 200 181 200 181 200 181 200 181 200 182 200 185 200 186 200 187 200 194 200 195 200 195 200 196 200 202 200 203 200 205 200 117 201 125 201 137 201 142 201 147 201 149 201 150 201 150 201 151 201 151 201 156 201 156 201 157 201 158 201 159 201 160 201 161 201 163 201 163 201 163 201 163 201 163 201 164 201 166 201 167 201 167 201 168 201 171 201 172 201 173 201 173 201 174 201 176 201 177 201 179 201 180 201 183 201 185 201 190 201 191 201 194 201 195 201 198 201 199 201 135 202 141 202 147 202 150 202 151 202 152 202 152 202 153 202 157 202 158 202 159 202 160 202 161 202 162 202 164 202 164 202 167 202 168 202 168 202 169 202 170 202 171 202 173 202 174 202 174 202 175 202 177 202 177 202 178 202 178 202 178 202 180 202 182 202 184 202 186 202 186 202 187 202 187 202 187 202 188 202 188 202 189 202 189 202 190 202 192 202 198 202 198 202 201 202 202 202 208 202 210 202 211 202 139 203 141 203 143 203 147 203 149 203 156 203 157 203 157 203 158 203 158 203 159 203 161 203 162 203 162 203 163 203 163 203 163 203 166 203 166 203 166 203 168 203 169 203 171 203 171 203 173 203 173 203 173 203 173 203 173 203 174 203 176 203 177 203 178 203 178 203 179 203 179 203 179 203 181 203 184 203 184 203 184 203 187 203 187 203 189 203 191 203 191 203 191 203 192 203 192 203 194 203 194 203 197 203 197 203 198 203 199 203 203 203 204 203 205 203 206 203 206 203 214 203 137 204 140 204 142 204 145 204 146 204 147 204 148 204 150 204 150 204 153 204 157 204 157 204 159 204 160 204 162 204 163 204 164 204 164 204 166 204 167 204 167 204 168 204 168 204 170 204 170 204 170 204 172 204 172 204 173 204 174 204 174 204 175 204 176 204 178 204 179 204 179 204 182 204 183 204 184 204 185 204 188 204 190 204 191 204 192 204 192 204 192 204 193 204 201 204 202 204 203 204 203 204 206 204 207 204 130 205 131 205 137 205 145 205 151 205 152 205 152 205 154 205 154 205 155 205 156 205 156 205 157 205 157 205 157 205 161 205 163 205 163 205 163 205 164 205 164 205 165 205 166 205 167 205 168 205 171 205 172 205 172 205 173 205 173 205 174 205 174 205 175 205 178 205 178 205 180 205 180 205 181 205 182 205 182 205 183 205 185 205 186 205 187 205 188 205 189 205 191 205 194 205 194 205 195 205 196 205 197 205 198 205 198 205 199 205 203 205 208 205 213 205 213 205 218 205 226 205 134 206 143 206 150 206 151 206 151 206 152 206 155 206 156 206 159 206 160 206 162 206 163 206 165 206 166 206 167 206 168 206 168 206 168 206 169 206 169 206 170 206 171 206 173 206 173 206 173 206 173 206 174 206 175 206 176 206 176 206 178 206 178 206 180 206 180 206 181 206 181 206 182 206 183 206 183 206 185 206 186 206 186 206 187 206 187 206 188 206 188 206 189 206 192 206 193 206 193 206 193 206 194 206 195 206 195 206 195 206 198 206 198 206 200 206 204 206 204 206 205 206 208 206 226 206 133 207 134 207 134 207 137 207 148 207 150 207 154 207 155 207 156 207 158 207 160 207 162 207 165 207 167 207 167 207 170 207 170 207 172 207 172 207 173 207 174 207 175 207 176 207 178 207 178 207 178 207 179 207 180 207 182 207 183 207 183 207 183 207 183 207 184 207 185 207 186 207 187 207 188 207 189 207 190 207 191 207 191 207 193 207 193 207 194 207 194 207 197 207 203 207 207 207 209 207 224 207 134 208 146 208 149 208 149 208 154 208 158 208 159 208 161 208 166 208 167 208 167 208 168 208 170 208 170 208 171 208 171 208 172 208 173 208 173 208 174 208 174 208 175 208 175 208 177 208 179 208 179 208 180 208 180 208 181 208 182 208 182 208 182 208 185 208 188 208 188 208 190 208 191 208 191 208 193 208 194 208 194 208 196 208 198 208 199 208 200 208 201 208 207 208 139 209 147 209 148 209 150 209 153 209 154 209 156 209 157 209 158 209 160 209 160 209 163 209 163 209 165 209 167 209 167 209 170 209 173 209 173 209 173 209 174 209 174 209 174 209 176 209 177 209 178 209 180 209 181 209 182 209 183 209 183 209 183 209 185 209 186 209 186 209 186 209 187 209 188 209 190 209 191 209 191 209 192 209 193 209 196 209 197 209 200 209 209 209 213 209 216 209 221 209 140 210 142 210 145 210 149 210 149 210 153 210 156 210 157 210 158 210 160 210 162 210 165 210 168 210 169 210 170 210 170 210 171 210 171 210 171 210 172 210 173 210 173 210 174 210 177 210 178 210 179 210 180 210 180 210 180 210 182 210 184 210 185 210 185 210 185 210 186 210 186 210 187 210 187 210 188 210 190 210 191 210 191 210 193 210 195 210 195 210 196 210 197 210 198 210 200 210 201 210 202 210 202 210 203 210 203 210 204 210 205 210 210 210 211 210 219 210 222 210 154 211 154 211 155 211 159 211 161 211 161 211 162 211 162 211 163 211 163 211 167 211 169 211 170 211 170 211 171 211 172 211 172 211 173 211 175 211 176 211 177 211 178 211 178 211 179 211 180 211 181 211 183 211 184 211 186 211 187 211 188 211 189 211 191 211 191 211 193 211 194 211 196 211 197 211 197 211 197 211 199 211 201 211 201 211 203 211 204 211 204 211 205 211 205 211 205 211 206 211 207 211 208 211 209 211 209 211 216 211 217 211 217 211 219 211 220 211 147 212 148 212 151 212 155 212 159 212 160 212 163 212 163 212 165 212 167 212 169 212 169 212 173 212 173 212 175 212 177 212 178 212 179 212 183 212 184 212 185 212 186 212 187 212 187 212 188 212 189 212 190 212 190 212 193 212 195 212 197 212 197 212 197 212 198 212 199 212 201 212 201 212 202 212 203 212 206 212 208 212 221 212 141 213 145 213 146 213 147 213 148 213 150 213 152 213 155 213 157 213 158 213 163 213 164 213 165 213 166 213 168 213 170 213 170 213 171 213 171 213 174 213 174 213 177 213 179 213 179 213 179 213 180 213 180 213 181 213 181 213 182 213 185 213 186 213 186 213 186 213 186 213 187 213 188 213 189 213 194 213 195 213 196 213 197 213 197 213 199 213 200 213 202 213 203 213 204 213 205 213 208 213 210 213 212 213 215 213 220 213 220 213 225 213 225 213 144 214 150 214 150 214 160 214 161 214 161 214 165 214 167 214 169 214 172 214 175 214 177 214 178 214 178 214 178 214 179 214 179 214 179 214 181 214 181 214 182 214 182 214 184 214 185 214 185 214 185 214 186 214 188 214 189 214 189 214 190 214 190 214 191 214 192 214 194 214 197 214 199 214 201 214 201 214 202 214 203 214 203 214 203 214 205 214 206 214 208 214 214 214 216 214 223 214 147 215 149 215 154 215 155 215 162 215 168 215 168 215 168 215 170 215 173 215 177 215 179 215 180 215 181 215 181 215 183 215 184 215 185 215 186 215 186 215 186 215 187 215 187 215 187 215 187 215 189 215 189 215 193 215 196 215 196 215 196 215 198 215 198 215 201 215 203 215 203 215 205 215 205 215 206 215 209 215 220 215 238 215 145 216 155 216 157 216 160 216 161 216 164 216 166 216 168 216 171 216 172 216 174 216 174 216 174 216 175 216 176 216 177 216 178 216 178 216 179 216 181 216 181 216 183 216 183 216 183 216 186 216 186 216 187 216 189 216 189 216 190 216 192 216 193 216 194 216 194 216 197 216 197 216 197 216 197 216 200 216 200 216 200 216 203 216 206 216 206 216 208 216 208 216 209 216 211 216 213 216 213 216 218 216 221 216 223 216 225 216 228 216 234 216 239 216 241 216 148 217 152 217 157 217 160 217 163 217 164 217 165 217 169 217 172 217 173 217 176 217 177 217 178 217 179 217 181 217 181 217 184 217 186 217 187 217 187 217 189 217 190 217 191 217 193 217 193 217 194 217 194 217 194 217 195 217 196 217 196 217 199 217 200 217 201 217 201 217 201 217 202 217 204 217 204 217 204 217 205 217 207 217 210 217 217 217 218 217 222 217 224 217 151 218 151 218 160 218 161 218 164 218 171 218 177 218 179 218 180 218 181 218 182 218 183 218 183 218 184 218 185 218 185 218 185 218 186 218 187 218 189 218 190 218 193 218 193 218 193 218 194 218 194 218 195 218 200 218 202 218 208 218 211 218 212 218 215 218 218 218 218 218 230 218 151 219 158 219 163 219 165 219 166 219 167 219 168 219 169 219 170 219 172 219 172 219 177 219 179 219 179 219 180 219 181 219 183 219 185 219 186 219 187 219 189 219 190 219 190 219 193 219 194 219 194 219 194 219 195 219 196 219 196 219 198 219 198 219 202 219 205 219 205 219 206 219 208 219 209 219 210 219 212 219 214 219 216 219 217 219 218 219 142 220 159 220 162 220 169 220 171 220 172 220 173 220 174 220 178 220 180 220 180 220 181 220 181 220 182 220 184 220 185 220 186 220 189 220 189 220 190 220 193 220 194 220 195 220 196 220 197 220 198 220 200 220 207 220 209 220 211 220 213 220 220 220 166 221 167 221 171 221 172 221 172 221 173 221 173 221 173 221 174 221 176 221 176 221 177 221 177 221 179 221 179 221 179 221 179 221 182 221 183 221 184 221 186 221 189 221 189 221 190 221 192 221 193 221 194 221 195 221 195 221 197 221 197 221 199 221 199 221 200 221 200 221 202 221 202 221 202 221 203 221 204 221 205 221 206 221 206 221 208 221 209 221 210 221 211 221 214 221 215 221 218 221 218 221 219 221 219 221 158 222 164 222 168 222 171 222 173 222 176 222 176 222 176 222 177 222 178 222 179 222 182 222 183 222 185 222 186 222 187 222 187 222 188 222 188 222 189 222 190 222 192 222 192 222 196 222 197 222 197 222 199 222 200 222 202 222 202 222 206 222 208 222 208 222 209 222 213 222 214 222 215 222 216 222 218 222 233 222 239 222 151 223 164 223 170 223 171 223 172 223 175 223 177 223 177 223 179 223 179 223 179 223 179 223 182 223 185 223 186 223 186 223 188 223 191 223 193 223 194 223 195 223 197 223 197 223 198 223 199 223 200 223 200 223 201 223 202 223 203 223 204 223 209 223 209 223 209 223 210 223 212 223 214 223 215 223 217 223 222 223 223 223 225 223 225 223 225 223 226 223 227 223 236 223 170 224 174 224 174 224 176 224 179 224 180 224 180 224 183 224 186 224 187 224 187 224 188 224 188 224 189 224 191 224 191 224 192 224 194 224 194 224 195 224 197 224 198 224 199 224 199 224 200 224 201 224 201 224 201 224 202 224 204 224 205 224 209 224 210 224 210 224 215 224 218 224 218 224 219 224 221 224 223 224 226 224 235 224 173 225 174 225 175 225 175 225 177 225 179 225 179 225 181 225 185 225 186 225 189 225 189 225 189 225 189 225 190 225 191 225 191 225 192 225 194 225 194 225 195 225 196 225 196 225 196 225 196 225 197 225 197 225 201 225 201 225 202 225 202 225 203 225 203 225 204 225 205 225 210 225 211 225 216 225 218 225 226 225 231 225 175 226 176 226 177 226 177 226 178 226 179 226 180 226 185 226 186 226 186 226 189 226 190 226 191 226 192 226 193 226 195 226 195 226 195 226 196 226 196 226 197 226 197 226 200 226 200 226 204 226 209 226 209 226 212 226 218 226 227 226 228 226 229 226 172 227 176 227 177 227 177 227 179 227 179 227 180 227 183 227 184 227 188 227 189 227 191 227 192 227 193 227 195 227 195 227 195 227 196 227 198 227 200 227 200 227 202 227 206 227 208 227 209 227 209 227 210 227 212 227 212 227 213 227 214 227 214 227 218 227 219 227 219 227 232 227 239 227 177 228 183 228 184 228 184 228 185 228 188 228 189 228 189 228 190 228 190 228 191 228 192 228 192 228 193 228 203 228 208 228 209 228 210 228 213 228 213 228 213 228 213 228 215 228 215 228 216 228 216 228 217 228 220 228 220 228 223 228 227 228 229 228 230 228 233 228 237 228 248 228 174 229 174 229 177 229 178 229 180 229 182 229 183 229 184 229 185 229 187 229 187 229 190 229 191 229 191 229 191 229 191 229 194 229 194 229 195 229 198 229 199 229 199 229 200 229 200 229 201 229 204 229 205 229 205 229 205 229 208 229 209 229 210 229 211 229 212 229 214 229 215 229 215 229 215 229 217 229 222 229 223 229 227 229 235 229 237 229 243 229 165 230 172 230 174 230 178 230 180 230 187 230 189 230 189 230 189 230 190 230 191 230 191 230 193 230 195 230 197 230 198 230 200 230 201 230 201 230 201 230 202 230 203 230 206 230 207 230 207 230 207 230 209 230 210 230 221 230 227 230 232 230 233 230 233 230 239 230 241 230 243 230 243 230 177 231 182 231 185 231 186 231 188 231 188 231 190 231 195 231 197 231 199 231 200 231 202 231 203 231 204 231 204 231 206 231 206 231 207 231 209 231 213 231 216 231 217 231 217 231 217 231 217 231 219 231 222 231 223 231 224 231 225 231 228 231 229 231 229 231 230 231 230 231 233 231 236 231 239 231 257 231 175 232 184 232 185 232 192 232 193 232 193 232 195 232 195 232 202 232 203 232 203 232 203 232 204 232 205 232 206 232 206 232 208 232 209 232 209 232 210 232 211 232 211 232 212 232 215 232 215 232 216 232 218 232 219 232 219 232 220 232 221 232 223 232 225 232 232 232 232 232 233 232 233 232 238 232 169 233 179 233 182 233 184 233 185 233 186 233 191 233 191 233 192 233 194 233 195 233 197 233 197 233 198 233 199 233 200 233 200 233 201 233 201 233 202 233 203 233 203 233 203 233 204 233 207 233 212 233 213 233 214 233 215 233 219 233 223 233 223 233 227 233 230 233 231 233 184 234 185 234 185 234 185 234 188 234 193 234 193 234 194 234 195 234 195 234 196 234 197 234 198 234 198 234 202 234 203 234 205 234 206 234 207 234 207 234 209 234 210 234 212 234 212 234 214 234 216 234 217 234 218 234 219 234 223 234 227 234 231 234 232 234 234 234 235 234 237 234 241 234 242 234 243 234 251 234 253 234 178 235 182 235 182 235 182 235 182 235 190 235 190 235 192 235 193 235 196 235 197 235 199 235 202 235 208 235 209 235 209 235 214 235 217 235 218 235 219 235 220 235 220 235 221 235 221 235 223 235 230 235 237 235 238 235 241 235 244 235 247 235 255 235 183 236 192 236 194 236 198 236 199 236 201 236 202 236 205 236 206 236 211 236 215 236 217 236 217 236 217 236 218 236 219 236 220 236 221 236 222 236 223 236 225 236 229 236 230 236 234 236 237 236 242 236 183 237 187 237 190 237 192 237 193 237 193 237 194 237 196 237 197 237 197 237 197 237 198 237 199 237 199 237 201 237 207 237 207 237 209 237 209 237 209 237 209 237 213 237 216 237 217 237 219 237 220 237 224 237 225 237 226 237 227 237 230 237 244 237 260 237 183 238 187 238 190 238 191 238 192 238 192 238 195 238 195 238 197 238 198 238 198 238 202 238 203 238 203 238 206 238 209 238 210 238 211 238 211 238 212 238 214 238 214 238 215 238 218 238 220 238 220 238 222 238 222 238 226 238 227 238 227 238 228 238 228 238 229 238 234 238 236 238 245 238 248 238 255 238 256 238 181 239 183 239 184 239 184 239 186 239 186 239 191 239 192 239 193 239 193 239 193 239 198 239 206 239 209 239 210 239 214 239 215 239 215 239 216 239 217 239 217 239 220 239 220 239 222 239 228 239 238 239 242 239 243 239 255 239 256 239 185 240 188 240 188 240 191 240 192 240 193 240 193 240 195 240 195 240 199 240 200 240 201 240 202 240 205 240 205 240 208 240 208 240 210 240 212 240 212 240 214 240 215 240 215 240 217 240 218 240 222 240 224 240 227 240 228 240 230 240 231 240 232 240 234 240 236 240 238 240 240 240 249 240 257 240 194 241 195 241 196 241 199 241 201 241 201 241 205 241 205 241 206 241 207 241 209 241 209 241 211 241 211 241 216 241 216 241 219 241 219 241 223 241 224 241 226 241 227 241 228 241 228 241 230 241 231 241 236 241 243 241 254 241 259 241 187 242 188 242 188 242 191 242 191 242 193 242 197 242 202 242 204 242 205 242 210 242 213 242 214 242 215 242 220 242 221 242 221 242 221 242 224 242 225 242 226 242 227 242 227 242 232 242 234 242 235 242 242 242 243 242 246 242 246 242 185 243 187 243 196 243 197 243 198 243 199 243 199 243 202 243 205 243 205 243 207 243 208 243 211 243 212 243 213 243 213 243 215 243 216 243 217 243 218 243 220 243 221 243 223 243 224 243 225 243 227 243 230 243 233 243 234 243 234 243 236 243 239 243 244 243 245 243 249 243 251 243 254 243 260 243 261 243 265 243 181 244 192 244 195 244 198 244 199 244 205 244 206 244 207 244 208 244 210 244 213 244 214 244 215 244 218 244 221 244 222 244 225 244 226 244 227 244 227 244 233 244 234 244 234 244 236 244 237 244 238 244 248 244 248 244 251 244 190 245 192 245 200 245 207 245 207 245 209 245 211 245 215 245 216 245 216 245 217 245 218 245 219 245 220 245 223 245 223 245 224 245 225 245 227 245 228 245 230 245 235 245 235 245 235 245 236 245 236 245 239 245 244 245 250 245 193 246 195 246 200 246 205 246 209 246 213 246 213 246 216 246 218 246 219 246 225 246 228 246 232 246 233 246 235 246 236 246 237 246 238 246 239 246 239 246 242 246 243 246 247 246 252 246 258 246 258 246 260 246 186 247 187 247 191 247 193 247 194 247 198 247 199 247 200 247 206 247 207 247 208 247 210 247 212 247 213 247 214 247 217 247 217 247 218 247 220 247 225 247 226 247 230 247 232 247 233 247 235 247 236 247 237 247 241 247 246 247 252 247 257 247 262 247 193 248 200 248 203 248 208 248 208 248 210 248 210 248 212 248 216 248 219 248 224 248 225 248 226 248 227 248 229 248 229 248 230 248 230 248 230 248 230 248 231 248 233 248 234 248 235 248 236 248 240 248 243 248 243 248 244 248 245 248 253 248 256 248 257 248 264 248 202 249 203 249 203 249 209 249 211 249 213 249 214 249 218 249 219 249 219 249 220 249 221 249 221 249 222 249 223 249 225 249 228 249 232 249 232 249 239 249 240 249 240 249 242 249 245 249 247 249 248 249 248 249 253 249 256 249 192 250 198 250 205 250 206 250 207 250 207 250 209 250 209 250 216 250 221 250 221 250 222 250 223 250 223 250 226 250 227 250 230 250 230 250 232 250 232 250 235 250 236 250 237 250 239 250 242 250 246 250 246 250 247 250 249 250 249 250 253 250 255 250 262 250 267 250 197 251 198 251 202 251 202 251 204 251 208 251 209 251 210 251 212 251 213 251 215 251 224 251 225 251 227 251 229 251 231 251 232 251 233 251 235 251 235 251 237 251 239 251 239 251 240 251 240 251 244 251 245 251 253 251 255 251 256 251 260 251 262 251 196 252 212 252 212 252 212 252 219 252 220 252 222 252 222 252 229 252 230 252 231 252 234 252 235 252 237 252 242 252 242 252 243 252 249 252 251 252 198 253 206 253 209 253 210 253 211 253 212 253 213 253 220 253 222 253 227 253 227 253 228 253 230 253 234 253 236 253 237 253 237 253 237 253 240 253 242 253 244 253 245 253 246 253 250 253 252 253 258 253 268 253 272 253 206 254 209 254 209 254 209 254 210 254 212 254 214 254 214 254 218 254 218 254 220 254 227 254 228 254 228 254 229 254 232 254 236 254 239 254 240 254 241 254 247 254 251 254 252 254 255 254 256 254 263 254 269 254 198 255 200 255 202 255 212 255 214 255 216 255 216 255 217 255 217 255 218 255 219 255 219 255 220 255 222 255 225 255 225 255 226 255 227 255 229 255 231 255 231 255 237 255 239 255 240 255 240 255 241 255 243 255 247 255 247 255 248 255 249 255 250 255 254 255 254 255 255 255 271 255 273 255 204 256 209 256 214 256 215 256 220 256 220 256 220 256 220 256 224 256 224 256 226 256 226 256 227 256 228 256 232 256 232 256 233 256 236 256 236 256 238 256 240 256 241 256 241 256 241 256 245 256 247 256 247 256 248 256 249 256 252 256 252 256 253 256 255 256 200 257 203 257 205 257 205 257 207 257 212 257 212 257 214 257 216 257 218 257 219 257 234 257 234 257 235 257 241 257 246 257 251 257 252 257 255 257 255 257 256 257 257 257 257 257 259 257 260 257 260 257 261 257 265 257 268 257 201 258 205 258 214 258 222 258 223 258 224 258 226 258 229 258 230 258 230 258 232 258 233 258 239 258 240 258 241 258 242 258 243 258 244 258 251 258 252 258 254 258 255 258 258 258 261 258 266 258 270 258 215 259 218 259 219 259 222 259 223 259 223 259 224 259 225 259 228 259 236 259 239 259 240 259 240 259 240 259 242 259 247 259 250 259 253 259 253 259 255 259 257 259 265 259 265 259 265 259 266 259 207 260 213 260 217 260 228 260 235 260 235 260 235 260 235 260 237 260 240 260 240 260 244 260 246 260 248 260 252 260 256 260 258 260 262 260 275 260 275 260 208 261 211 261 214 261 215 261 222 261 222 261 223 261 224 261 227 261 235 261 236 261 238 261 240 261 241 261 242 261 242 261 245 261 246 261 248 261 257 261 263 261 265 261 267 261 270 261 272 261 272 261 210 262 210 262 213 262 214 262 217 262 220 262 221 262 222 262 223 262 228 262 229 262 234 262 235 262 236 262 237 262 237 262 242 262 247 262 248 262 248 262 251 262 253 262 256 262 257 262 262 262 264 262 267 262 268 262 268 262 219 263 219 263 222 263 224 263 232 263 232 263 232 263 238 263 238 263 240 263 241 263 242 263 242 263 244 263 245 263 254 263 256 263 257 263 258 263 260 263 261 263 261 263 262 263 265 263 265 263 268 263 272 263 214 264 215 264 223 264 225 264 226 264 227 264 228 264 238 264 240 264 241 264 243 264 243 264 244 264 246 264 246 264 247 264 248 264 249 264 249 264 250 264 251 264 253 264 256 264 257 264 259 264 260 264 261 264 261 264 262 264 262 264 273 264 276 264 281 264 210 265 217 265 217 265 221 265 226 265 228 265 228 265 233 265 237 265 237 265 238 265 238 265 239 265 239 265 241 265 248 265 248 265 249 265 251 265 253 265 255 265 256 265 262 265 263 265 267 265 268 265 268 265 272 265 275 265 277 265 210 266 214 266 215 266 218 266 220 266 222 266 228 266 232 266 233 266 234 266 234 266 235 266 235 266 238 266 240 266 240 266 241 266 241 266 243 266 243 266 244 266 246 266 247 266 247 266 247 266 249 266 251 266 253 266 254 266 255 266 265 266 268 266 276 266 212 267 214 267 219 267 220 267 220 267 221 267 221 267 224 267 226 267 230 267 231 267 231 267 232 267 236 267 237 267 237 267 237 267 238 267 240 267 242 267 243 267 244 267 248 267 249 267 250 267 253 267 254 267 254 267 254 267 256 267 256 267 258 267 262 267 266 267 268 267 273 267 281 267 219 268 220 268 231 268 235 268 235 268 238 268 239 268 240 268 241 268 244 268 245 268 246 268 247 268 249 268 249 268 254 268 257 268 257 268 261 268 263 268 263 268 267 268 272 268 213 269 214 269 223 269 226 269 230 269 231 269 231 269 233 269 238 269 240 269 241 269 243 269 244 269 244 269 245 269 248 269 249 269 250 269 252 269 253 269 254 269 256 269 256 269 257 269 258 269 259 269 261 269 262 269 263 269 274 269 283 269 212 270 223 270 225 270 228 270 231 270 232 270 232 270 239 270 239 270 243 270 245 270 247 270 247 270 253 270 254 270 255 270 261 270 261 270 261 270 265 270 267 270 267 270 274 270 285 270 288 270 218 271 220 271 228 271 231 271 232 271 233 271 235 271 236 271 238 271 243 271 244 271 246 271 247 271 247 271 248 271 252 271 255 271 257 271 257 271 258 271 258 271 264 271 268 271 269 271 288 271 209 272 218 272 219 272 226 272 228 272 231 272 238 272 239 272 241 272 242 272 242 272 245 272 247 272 247 272 249 272 249 272 249 272 249 272 257 272 258 272 260 272 263 272 264 272 264 272 266 272 268 272 269 272 269 272 270 272 275 272 276 272 279 272 285 272 212 273 219 273 220 273 224 273 227 273 230 273 232 273 236 273 237 273 239 273 242 273 242 273 243 273 247 273 248 273 249 273 253 273 256 273 257 273 257 273 257 273 257 273 262 273 265 273 267 273 267 273 272 273 273 273 279 273 212 274 224 274 225 274 228 274 229 274 232 274 233 274 234 274 234 274 236 274 239 274 240 274 244 274 251 274 253 274 254 274 255 274 256 274 259 274 260 274 260 274 262 274 264 274 267 274 267 274 283 274 291 274 294 274 212 275 235 275 238 275 243 275 244 275 244 275 245 275 246 275 246 275 246 275 247 275 248 275 248 275 250 275 251 275 251 275 258 275 260 275 261 275 262 275 263 275 266 275 271 275 271 275 272 275 274 275 274 275 278 275 288 275 297 275 220 276 221 276 238 276 241 276 245 276 246 276 246 276 248 276 259 276 263 276 263 276 264 276 266 276 269 276 269 276 271 276 272 276 283 276 217 277 228 277 238 277 239 277 240 277 244 277 248 277 248 277 250 277 256 277 258 277 259 277 260 277 261 277 263 277 263 277 263 277 266 277 267 277 268 277 269 277 270 277 271 277 273 277 220 278 227 278 233 278 234 278 235 278 236 278 237 278 238 278 239 278 245 278 251 278 256 278 259 278 259 278 259 278 264 278 264 278 265 278 266 278 269 278 273 278 273 278 281 278 303 278 218 279 224 279 227 279 237 279 243 279 250 279 252 279 253 279 254 279 255 279 255 279 257 279 258 279 258 279 261 279 266 279 267 279 269 279 271 279 276 279 281 279 286 279 234 280 236 280 246 280 246 280 246 280 247 280 248 280 248 280 251 280 252 280 254 280 259 280 259 280 260 280 260 280 261 280 261 280 261 280 263 280 274 280 274 280 277 280 279 280 282 280 283 280 291 280 222 281 231 281 232 281 235 281 236 281 246 281 247 281 252 281 255 281 257 281 261 281 262 281 262 281 265 281 266 281 267 281 267 281 267 281 269 281 275 281 276 281 278 281 283 281 228 282 231 282 236 282 237 282 239 282 243 282 244 282 247 282 249 282 251 282 255 282 256 282 262 282 262 282 264 282 264 282 266 282 267 282 267 282 269 282 269 282 272 282 273 282 273 282 273 282 282 282 299 282 234 283 241 283 241 283 247 283 250 283 251 283 252 283 254 283 254 283 256 283 256 283 257 283 258 283 261 283 262 283 263 283 265 283 265 283 266 283 268 283 269 283 274 283 278 283 280 283 281 283 283 283 284 283 284 283 228 284 240 284 241 284 241 284 241 284 244 284 250 284 251 284 259 284 260 284 262 284 266 284 269 284 269 284 271 284 276 284 276 284 278 284 239 285 243 285 244 285 245 285 253 285 255 285 260 285 260 285 261 285 262 285 262 285 263 285 263 285 266 285 269 285 269 285 270 285 273 285 274 285 274 285 275 285 276 285 276 285 276 285 277 285 280 285 282 285 284 285 295 285 237 286 237 286 253 286 260 286 262 286 263 286 265 286 265 286 268 286 268 286 270 286 272 286 272 286 274 286 278 286 296 286 246 287 249 287 250 287 252 287 252 287 253 287 263 287 263 287 263 287 264 287 266 287 268 287 269 287 270 287 273 287 275 287 276 287 279 287 286 287 288 287 290 287 292 287 295 287 299 287 240 288 251 288 254 288 257 288 257 288 259 288 259 288 260 288 264 288 268 288 271 288 271 288 274 288 274 288 275 288 275 288 282 288 283 288 286 288 289 288 290 288 297 288 245 289 247 289 250 289 250 289 251 289 253 289 255 289 255 289 256 289 257 289 258 289 258 289 260 289 261 289 263 289 264 289 270 289 271 289 273 289 274 289 274 289 278 289 278 289 278 289 278 289 279 289 279 289 280 289 283 289 287 289 288 289 294 289 299 289 303 289 243 290 244 290 247 290 251 290 255 290 257 290 258 290 260 290 260 290 261 290 262 290 264 290 266 290 267 290 268 290 269 290 273 290 275 290 275 290 275 290 279 290 280 290 282 290 283 290 283 290 284 290 284 290 286 290 287 290 289 290 290 290 290 290 298 290 298 290 301 290 302 290 308 290 246 291 251 291 252 291 255 291 255 291 256 291 259 291 264 291 264 291 264 291 269 291 270 291 270 291 272 291 273 291 277 291 284 291 290 291 292 291 295 291 309 291 253 292 255 292 258 292 262 292 264 292 267 292 267 292 269 292 269 292 269 292 270 292 274 292 278 292 284 292 288 292 291 292 308 292 309 292 310 292 248 293 253 293 256 293 260 293 260 293 260 293 265 293 266 293 268 293 268 293 268 293 269 293 269 293 270 293 271 293 275 293 276 293 277 293 277 293 278 293 279 293 282 293 283 293 284 293 285 293 285 293 287 293 287 293 288 293 289 293 292 293 292 293 292 293 294 293 295 293 298 293 301 293 301 293 303 293 304 293 304 293 306 293 307 293 312 293 247 294 250 294 251 294 253 294 253 294 254 294 254 294 255 294 258 294 259 294 262 294 263 294 264 294 265 294 267 294 268 294 270 294 272 294 272 294 272 294 273 294 275 294 277 294 277 294 278 294 280 294 285 294 285 294 286 294 290 294 291 294 292 294 295 294 296 294 297 294 299 294 301 294 304 294 304 294 310 294 312 294 250 295 255 295 256 295 260 295 264 295 264 295 267 295 267 295 268 295 269 295 271 295 272 295 272 295 275 295 276 295 276 295 276 295 277 295 277 295 279 295 281 295 283 295 284 295 286 295 290 295 292 295 292 295 294 295 298 295 298 295 300 295 300 295 303 295 304 295 306 295 310 295 315 295 317 295 319 295 250 296 251 296 257 296 262 296 263 296 263 296 266 296 269 296 269 296 270 296 271 296 272 296 276 296 276 296 277 296 278 296 280 296 286 296 288 296 291 296 293 296 295 296 297 296 300 296 300 296 300 296 303 296 304 296 310 296 317 296 318 296 326 296 250 297 262 297 263 297 263 297 264 297 266 297 270 297 271 297 278 297 278 297 279 297 282 297 283 297 284 297 286 297 287 297 287 297 288 297 288 297 289 297 290 297 291 297 292 297 294 297 296 297 297 297 297 297 299 297 301 297 301 297 308 297 309 297 309 297 310 297 313 297 316 297 317 297 320 297 252 298 255 298 256 298 258 298 259 298 262 298 266 298 268 298 270 298 271 298 272 298 278 298 279 298 279 298 280 298 281 298 281 298 282 298 282 298 283 298 284 298 288 298 288 298 293 298 293 298 298 298 300 298 301 298 302 298 303 298 303 298 303 298 304 298 312 298 317 298 324 298 261 299 262 299 264 299 265 299 268 299 268 299 270 299 270 299 271 299 271 299 272 299 273 299 274 299 275 299 276 299 278 299 279 299 282 299 283 299 285 299 285 299 285 299 286 299 288 299 289 299 290 299 290 299 294 299 295 299 298 299 299 299 300 299 300 299 300 299 302 299 302 299 305 299 307 299 307 299 307 299 308 299 310 299 311 299 313 299 313 299 314 299 320 299 321 299 326 299 270 300 272 300 276 300 279 300 280 300 282 300 285 300 288 300 288 300 289 300 290 300 290 300 291 300 291 300 293 300 293 300 297 300 298 300 299 300 300 300 300 300 301 300 303 300 303 300 305 300 307 300 307 300 313 300 315 300 316 300 330 300 253 301 259 301 260 301 261 301 263 301 267 301 274 301 279 301 283 301 284 301 285 301 285 301 286 301 287 301 289 301 291 301 293 301 293 301 295 301 295 301 297 301 298 301 301 301 301 301 304 301 304 301 305 301 306 301 307 301 309 301 309 301 310 301 313 301 314 301 315 301 319 301 319 301 324 301 259 302 268 302 270 302 270 302 270 302 272 302 274 302 281 302 281 302 286 302 286 302 289 302 291 302 291 302 294 302 296 302 297 302 297 302 298 302 299 302 304 302 308 302 312 302 313 302 317 302 319 302 323 302 334 302 264 303 273 303 275 303 278 303 279 303 280 303 282 303 282 303 284 303 286 303 287 303 288 303 288 303 289 303 290 303 291 303 293 303 294 303 294 303 295 303 296 303 298 303 299 303 302 303 303 303 303 303 303 303 306 303 306 303 309 303 311 303 311 303 313 303 315 303 315 303 316 303 316 303 317 303 263 304 268 304 270 304 275 304 276 304 282 304 284 304 286 304 286 304 290 304 291 304 291 304 292 304 294 304 294 304 295 304 295 304 295 304 296 304 296 304 296 304 297 304 297 304 298 304 298 304 299 304 299 304 300 304 305 304 309 304 313 304 314 304 315 304 315 304 319 304 321 304 323 304 328 304 332 304 332 304 334 304 262 305 263 305 269 305 270 305 270 305 276 305 278 305 280 305 280 305 280 305 284 305 284 305 289 305 290 305 290 305 290 305 290 305 291 305 292 305 295 305 298 305 300 305 302 305 303 305 304 305 305 305 305 305 307 305 307 305 307 305 308 305 309 305 311 305 311 305 312 305 313 305 315 305 317 305 317 305 318 305 321 305 324 305 325 305 271 306 272 306 277 306 280 306 281 306 284 306 291 306 292 306 293 306 295 306 296 306 299 306 300 306 301 306 303 306 303 306 308 306 309 306 311 306 312 306 312 306 313 306 315 306 316 306 317 306 317 306 326 306 336 306 257 307 258 307 275 307 279 307 286 307 286 307 287 307 287 307 289 307 290 307 294 307 294 307 295 307 296 307 300 307 301 307 307 307 307 307 309 307 311 307 312 307 341 307 272 308 272 308 273 308 286 308 289 308 291 308 293 308 293 308 294 308 296 308 300 308 301 308 304 308 304 308 311 308 312 308 314 308 316 308 317 308 319 308 319 308 320 308 321 308 322 308 331 308 259 309 271 309 285 309 287 309 289 309 292 309 295 309 301 309 301 309 302 309 307 309 309 309 310 309 310 309 312 309 316 309 326 309 333 309 284 310 285 310 286 310 287 310 289 310 295 310 298 310 300 310 301 310 301 310 306 310 308 310 308 310 309 310 309 310 313 310 277 311 279 311 280 311 292 311 293 311 295 311 300 311 303 311 306 311 307 311 307 311 308 311 311 311 312 311 318 311 319 311 273 312 285 312 286 312 300 312 305 312 306 312 270 313 273 313 286 313 289 313 292 313 295 313 307 313 282 314 287 314 299 314 308 314 297 315 303 315 290 316 292 316 295 316 102 55 84 72 292 261 297 276" fill="none" stroke="none" marker-start="url(#p)" marker-mid="url(#p)" marker-end="url(#p)"/><path d="M543 41 534 42 532 49 544 52 519 54 568 62 520 63 534 63 578 63 526 65 551 66 566 66 544 67 555 67 556 67 563 67 534 68 538 69 564 69 523 70 570 71 589 71 519 72 594 72 528 73 549 73 550 73 568 73 492 74 498 74 523 74 538 74 540 74 596 74 516 75 564 75 513 76 541 76 563 76 566 76 525 77 532 77 563 77 571 77 515 78 550 78 583 78 528 79 541 80 542 80 546 80 547 80 556 80 570 80 571 80 529 81 553 81 584 81 502 82 510 82 532 82 541 82 546 82 571 82 508 83 537 83 538 83 565 83 571 83 580 83 525 84 534 84 554 84 576 84 601 84 542 85 562 85 571 85 575 85 575 85 526 86 534 86 544 86 547 86 549 86 556 86 570 86 577 86 599 86 523 87 536 87 544 87 570 87 581 87 514 88 514 88 523 88 533 88 537 88 548 88 549 88 554 88 555 88 571 88 582 88 587 88 604 88 512 89 541 89 544 89 545 89 557 89 560 89 589 89 502 90 518 90 539 90 550 90 555 90 569 90 578 90 522 91 532 91 552 91 554 91 554 91 554 91 555 91 573 91 576 91 576 91 494 92 500 92 537 92 539 92 545 92 546 92 546 92 554 92 560 92 576 92 582 92 583 92 492 93 505 93 521 93 532 93 542 93 544 93 552 93 555 93 556 93 561 93 561 93 568 93 509 94 510 94 533 94 555 94 570 94 571 94 577 94 582 94 585 94 601 94 601 94 495 95 497 95 545 95 548 95 548 95 555 95 556 95 557 95 570 95 571 95 574 95 599 95 513 96 526 96 530 96 533 96 533 96 540 96 545 96 547 96 560 96 568 96 572 96 575 96 522 97 524 97 529 97 543 97 543 97 549 97 562 97 499 98 507 98 514 98 516 98 530 98 533 98 538 98 546 98 553 98 553 98 564 98 570 98 610 98 616 98 509 99 519 99 545 99 557 99 566 99 567 99 570 99 587 99 594 99 525 100 526 100 528 100 529 100 534 100 535 100 539 100 543 100 548 100 559 100 567 100 571 100 578 100 582 100 590 100 605 100 625 100 505 101 523 101 523 101 530 101 530 101 531 101 535 101 536 101 539 101 539 101 543 101 548 101 549 101 567 101 571 101 572 101 574 101 576 101 592 101 600 101 603 101 604 101 522 102 526 102 528 102 528 102 530 102 533 102 533 102 536 102 543 102 544 102 547 102 548 102 567 102 572 102 578 102 579 102 587 102 594 102 511 103 515 103 529 103 533 103 533 103 544 103 553 103 562 103 570 103 578 103 620 103 507 104 513 104 513 104 519 104 534 104 539 104 565 104 582 104 588 104 599 104 606 104 505 105 522 105 531 105 531 105 541 105 543 105 550 105 552 105 554 105 556 105 558 105 558 105 564 105 578 105 603 105 608 105 516 106 525 106 527 106 531 106 534 106 539 106 542 106 544 106 546 106 546 106 554 106 558 106 564 106 565 106 566 106 566 106 566 106 575 106 579 106 586 106 591 106 591 106 595 106 606 106 506 107 507 107 509 107 533 107 535 107 543 107 544 107 545 107 547 107 549 107 551 107 552 107 559 107 561 107 562 107 564 107 574 107 575 107 577 107 583 107 588 107 590 107 518 108 523 108 524 108 533 108 539 108 540 108 541 108 546 108 551 108 554 108 556 108 557 108 560 108 576 108 580 108 591 108 596 108 596 108 617 108 485 109 502 109 516 109 526 109 526 109 529 109 529 109 539 109 541 109 541 109 549 109 555 109 560 109 567 109 577 109 578 109 582 109 599 109 606 109 502 110 512 110 512 110 520 110 523 110 527 110 531 110 533 110 541 110 543 110 543 110 553 110 562 110 571 110 588 110 590 110 600 110 602 110 605 110 609 110 505 111 511 111 531 111 535 111 540 111 541 111 548 111 550 111 555 111 564 111 568 111 573 111 586 111 587 111 609 111 521 112 531 112 533 112 541 112 542 112 544 112 546 112 552 112 553 112 557 112 571 112 572 112 572 112 576 112 578 112 590 112 591 112 593 112 527 113 532 113 535 113 539 113 541 113 541 113 545 113 545 113 557 113 559 113 569 113 570 113 581 113 583 113 585 113 586 113 587 113 593 113 593 113 594 113 596 113 606 113 617 113 488 114 506 114 511 114 519 114 521 114 525 114 530 114 531 114 543 114 545 114 551 114 552 114 559 114 560 114 561 114 561 114 562 114 563 114 567 114 577 114 586 114 606 114 639 114 524 115 530 115 541 115 543 115 544 115 544 115 547 115 549 115 552 115 553 115 553 115 556 115 559 115 561 115 566 115 567 115 581 115 603 115 508 116 510 116 530 116 531 116 542 116 545 116 546 116 548 116 552 116 554 116 554 116 554 116 563 116 564 116 567 116 574 116 581 116 590 116 596 116 601 116 602 116 604 116 609 116 515 117 525 117 527 117 528 117 529 117 532 117 536 117 542 117 543 117 544 117 551 117 551 117 553 117 553 117 561 117 569 117 575 117 578 117 580 117 581 117 581 117 602 117 613 117 507 118 517 118 522 118 523 118 525 118 529 118 535 118 535 118 536 118 536 118 537 118 539 118 539 118 541 118 545 118 547 118 552 118 554 118 556 118 557 118 558 118 567 118 569 118 570 118 573 118 573 118 584 118 588 118 593 118 596 118 597 118 611 118 505 119 522 119 523 119 525 119 529 119 531 119 532 119 536 119 540 119 542 119 542 119 543 119 547 119 550 119 550 119 552 119 557 119 558 119 558 119 563 119 569 119 570 119 571 119 581 119 581 119 606 119 508 120 516 120 525 120 533 120 540 120 542 120 543 120 549 120 551 120 551 120 556 120 557 120 558 120 560 120 564 120 582 120 592 120 491 121 523 121 529 121 534 121 534 121 540 121 542 121 542 121 543 121 551 121 564 121 568 121 568 121 569 121 572 121 577 121 578 121 580 121 582 121 591 121 596 121 621 121 506 122 523 122 527 122 528 122 531 122 531 122 537 122 540 122 541 122 542 122 543 122 543 122 545 122 548 122 551 122 551 122 551 122 553 122 555 122 556 122 559 122 560 122 561 122 563 122 563 122 564 122 574 122 575 122 582 122 582 122 585 122 593 122 602 122 613 122 496 123 512 123 517 123 527 123 529 123 530 123 531 123 533 123 536 123 541 123 541 123 542 123 546 123 548 123 549 123 549 123 550 123 553 123 557 123 558 123 558 123 560 123 561 123 561 123 563 123 563 123 565 123 565 123 568 123 570 123 574 123 575 123 578 123 578 123 579 123 579 123 579 123 582 123 583 123 591 123 600 123 620 123 506 124 520 124 526 124 529 124 532 124 534 124 534 124 539 124 540 124 542 124 542 124 543 124 543 124 546 124 546 124 548 124 548 124 550 124 554 124 554 124 555 124 556 124 557 124 559 124 560 124 565 124 565 124 566 124 566 124 568 124 569 124 572 124 572 124 573 124 575 124 578 124 579 124 579 124 592 124 606 124 607 124 518 125 521 125 530 125 537 125 540 125 543 125 543 125 546 125 547 125 550 125 554 125 557 125 558 125 559 125 562 125 567 125 568 125 569 125 569 125 570 125 578 125 579 125 583 125 589 125 591 125 596 125 603 125 516 126 518 126 524 126 527 126 532 126 532 126 534 126 535 126 537 126 542 126 542 126 547 126 549 126 550 126 552 126 552 126 557 126 560 126 560 126 560 126 561 126 561 126 562 126 564 126 565 126 566 126 570 126 571 126 571 126 573 126 574 126 576 126 583 126 584 126 597 126 604 126 616 126 507 127 508 127 509 127 510 127 511 127 512 127 520 127 521 127 525 127 527 127 531 127 532 127 535 127 536 127 536 127 539 127 539 127 542 127 543 127 543 127 546 127 546 127 546 127 547 127 548 127 548 127 549 127 553 127 553 127 553 127 555 127 556 127 558 127 560 127 563 127 564 127 570 127 572 127 575 127 580 127 582 127 582 127 585 127 589 127 596 127 606 127 625 127 641 127 498 128 500 128 515 128 521 128 524 128 526 128 527 128 536 128 536 128 539 128 548 128 548 128 548 128 550 128 554 128 556 128 557 128 558 128 558 128 563 128 566 128 571 128 574 128 576 128 585 128 589 128 603 128 612 128 626 128 484 129 507 129 510 129 514 129 516 129 518 129 519 129 524 129 531 129 534 129 536 129 537 129 540 129 540 129 542 129 543 129 544 129 546 129 547 129 548 129 549 129 551 129 553 129 557 129 560 129 562 129 566 129 568 129 572 129 572 129 575 129 576 129 576 129 578 129 579 129 580 129 580 129 515 130 521 130 523 130 526 130 529 130 536 130 538 130 539 130 545 130 545 130 545 130 547 130 548 130 551 130 554 130 554 130 557 130 558 130 559 130 561 130 561 130 562 130 566 130 570 130 571 130 571 130 571 130 573 130 574 130 575 130 575 130 575 130 578 130 581 130 585 130 587 130 594 130 615 130 622 130 530 131 531 131 532 131 533 131 537 131 538 131 538 131 538 131 539 131 544 131 547 131 548 131 549 131 549 131 553 131 556 131 558 131 558 131 560 131 569 131 569 131 572 131 575 131 576 131 578 131 579 131 580 131 580 131 581 131 584 131 591 131 593 131 595 131 597 131 613 131 504 132 515 132 518 132 519 132 523 132 527 132 529 132 529 132 548 132 548 132 554 132 554 132 557 132 558 132 559 132 563 132 565 132 565 132 565 132 571 132 578 132 578 132 579 132 580 132 580 132 589 132 589 132 608 132 614 132 631 132 487 133 511 133 512 133 512 133 520 133 521 133 527 133 528 133 532 133 540 133 541 133 542 133 542 133 542 133 544 133 546 133 549 133 550 133 551 133 552 133 554 133 554 133 556 133 559 133 559 133 560 133 562 133 562 133 563 133 563 133 563 133 563 133 563 133 566 133 571 133 573 133 575 133 575 133 592 133 594 133 500 134 505 134 514 134 520 134 524 134 525 134 528 134 532 134 533 134 533 134 542 134 544 134 547 134 552 134 557 134 558 134 559 134 560 134 565 134 568 134 570 134 572 134 586 134 594 134 596 134 597 134 598 134 599 134 497 135 511 135 514 135 520 135 526 135 527 135 531 135 532 135 533 135 534 135 536 135 541 135 541 135 543 135 548 135 549 135 549 135 549 135 551 135 551 135 551 135 553 135 553 135 553 135 554 135 563 135 566 135 567 135 567 135 568 135 568 135 569 135 569 135 570 135 579 135 588 135 591 135 596 135 606 135 615 135 619 135 535 136 538 136 540 136 544 136 544 136 544 136 545 136 549 136 550 136 553 136 554 136 555 136 559 136 559 136 560 136 561 136 561 136 564 136 567 136 568 136 568 136 571 136 574 136 576 136 581 136 581 136 589 136 591 136 617 136 626 136 505 137 518 137 527 137 536 137 537 137 538 137 540 137 541 137 544 137 547 137 549 137 550 137 551 137 559 137 559 137 560 137 561 137 565 137 565 137 566 137 567 137 568 137 569 137 572 137 573 137 576 137 577 137 588 137 591 137 594 137 607 137 607 137 609 137 520 138 526 138 529 138 533 138 534 138 535 138 537 138 537 138 542 138 553 138 553 138 555 138 556 138 558 138 560 138 564 138 564 138 565 138 565 138 567 138 570 138 570 138 572 138 573 138 576 138 580 138 597 138 602 138 602 138 603 138 606 138 611 138 523 139 531 139 535 139 539 139 540 139 543 139 544 139 550 139 550 139 550 139 550 139 551 139 551 139 551 139 553 139 554 139 556 139 557 139 558 139 563 139 563 139 564 139 566 139 568 139 569 139 570 139 575 139 575 139 576 139 577 139 581 139 581 139 584 139 584 139 586 139 587 139 588 139 591 139 594 139 598 139 496 140 523 140 527 140 536 140 543 140 543 140 543 140 547 140 548 140 550 140 550 140 552 140 552 140 556 140 557 140 558 140 558 140 562 140 565 140 567 140 571 140 571 140 572 140 573 140 577 140 578 140 585 140 585 140 588 140 590 140 591 140 598 140 602 140 603 140 632 140 509 141 515 141 530 141 537 141 537 141 542 141 542 141 544 141 544 141 544 141 544 141 545 141 546 141 547 141 547 141 550 141 551 141 551 141 551 141 552 141 553 141 553 141 553 141 555 141 555 141 556 141 556 141 559 141 561 141 562 141 562 141 566 141 569 141 573 141 573 141 575 141 576 141 576 141 579 141 582 141 582 141 583 141 584 141 585 141 587 141 588 141 593 141 602 141 635 141 501 142 518 142 521 142 533 142 533 142 533 142 535 142 537 142 540 142 540 142 541 142 543 142 543 142 544 142 545 142 545 142 546 142 547 142 552 142 553 142 554 142 554 142 555 142 555 142 560 142 563 142 564 142 564 142 565 142 573 142 573 142 575 142 578 142 579 142 581 142 586 142 588 142 589 142 591 142 595 142 600 142 530 143 531 143 532 143 534 143 536 143 536 143 542 143 543 143 545 143 545 143 547 143 548 143 549 143 555 143 557 143 558 143 561 143 561 143 562 143 565 143 570 143 571 143 572 143 573 143 576 143 577 143 578 143 584 143 589 143 590 143 593 143 593 143 595 143 595 143 596 143 598 143 602 143 604 143 622 143 509 144 518 144 519 144 520 144 522 144 524 144 530 144 534 144 534 144 535 144 541 144 541 144 542 144 542 144 543 144 545 144 549 144 550 144 550 144 550 144 551 144 551 144 553 144 556 144 556 144 557 144 559 144 559 144 561 144 561 144 562 144 564 144 564 144 565 144 566 144 567 144 569 144 569 144 571 144 573 144 573 144 579 144 591 144 599 144 605 144 607 144 611 144 504 145 515 145 526 145 526 145 530 145 532 145 535 145 535 145 543 145 549 145 550 145 551 145 552 145 556 145 559 145 561 145 562 145 562 145 563 145 564 145 565 145 568 145 573 145 574 145 577 145 577 145 578 145 579 145 580 145 583 145 583 145 588 145 590 145 591 145 593 145 597 145 598 145 600 145 602 145 608 145 615 145 638 145 491 146 505 146 529 146 532 146 536 146 538 146 541 146 543 146 544 146 545 146 546 146 551 146 551 146 551 146 552 146 552 146 553 146 557 146 558 146 560 146 562 146 563 146 564 146 564 146 565 146 566 146 566 146 567 146 567 146 572 146 574 146 575 146 575 146 576 146 577 146 577 146 579 146 581 146 583 146 585 146 585 146 586 146 587 146 587 146 589 146 589 146 590 146 592 146 599 146 603 146 514 147 520 147 523 147 523 147 526 147 530 147 530 147 531 147 532 147 532 147 532 147 534 147 535 147 543 147 544 147 544 147 545 147 547 147 550 147 551 147 558 147 559 147 561 147 561 147 563 147 564 147 567 147 568 147 568 147 568 147 568 147 572 147 572 147 572 147 573 147 573 147 574 147 575 147 577 147 582 147 584 147 584 147 588 147 588 147 588 147 588 147 588 147 598 147 600 147 601 147 503 148 516 148 518 148 533 148 536 148 536 148 537 148 537 148 538 148 539 148 542 148 542 148 542 148 544 148 547 148 551 148 551 148 551 148 554 148 554 148 554 148 555 148 555 148 555 148 556 148 557 148 559 148 560 148 560 148 561 148 563 148 563 148 564 148 564 148 564 148 564 148 565 148 567 148 568 148 568 148 569 148 570 148 570 148 577 148 578 148 579 148 579 148 581 148 583 148 586 148 587 148 589 148 592 148 594 148 613 148 506 149 518 149 519 149 522 149 523 149 528 149 530 149 531 149 537 149 539 149 540 149 541 149 541 149 545 149 547 149 548 149 549 149 549 149 552 149 553 149 556 149 556 149 558 149 559 149 563 149 563 149 564 149 566 149 567 149 569 149 569 149 577 149 577 149 578 149 579 149 581 149 582 149 584 149 589 149 592 149 593 149 597 149 603 149 605 149 605 149 608 149 623 149 525 150 529 150 530 150 531 150 533 150 536 150 536 150 537 150 540 150 541 150 542 150 543 150 545 150 548 150 548 150 550 150 553 150 556 150 556 150 557 150 558 150 558 150 559 150 559 150 559 150 563 150 563 150 568 150 569 150 569 150 574 150 575 150 576 150 578 150 578 150 578 150 582 150 582 150 582 150 582 150 582 150 583 150 584 150 589 150 591 150 591 150 593 150 601 150 607 150 611 150 613 150 525 151 531 151 535 151 540 151 540 151 543 151 544 151 548 151 556 151 557 151 558 151 562 151 563 151 563 151 565 151 567 151 568 151 568 151 569 151 570 151 571 151 577 151 579 151 582 151 583 151 584 151 586 151 587 151 588 151 589 151 594 151 596 151 597 151 600 151 600 151 602 151 602 151 603 151 614 151 514 152 514 152 519 152 521 152 525 152 526 152 526 152 529 152 530 152 530 152 534 152 534 152 535 152 539 152 547 152 547 152 552 152 552 152 553 152 558 152 558 152 559 152 561 152 561 152 562 152 562 152 562 152 563 152 563 152 566 152 566 152 567 152 570 152 572 152 572 152 576 152 580 152 581 152 585 152 588 152 589 152 589 152 589 152 592 152 594 152 594 152 594 152 595 152 599 152 600 152 600 152 608 152 613 152 621 152 507 153 508 153 509 153 527 153 531 153 532 153 532 153 532 153 540 153 541 153 542 153 543 153 543 153 544 153 546 153 546 153 546 153 548 153 549 153 549 153 551 153 554 153 556 153 556 153 556 153 558 153 559 153 560 153 561 153 563 153 564 153 565 153 565 153 567 153 568 153 568 153 570 153 571 153 571 153 571 153 575 153 578 153 580 153 580 153 580 153 581 153 581 153 582 153 583 153 586 153 587 153 588 153 590 153 590 153 592 153 594 153 596 153 598 153 606 153 606 153 609 153 613 153 485 154 501 154 504 154 523 154 531 154 536 154 536 154 537 154 537 154 538 154 542 154 543 154 544 154 547 154 548 154 548 154 550 154 550 154 551 154 551 154 552 154 553 154 555 154 556 154 556 154 558 154 560 154 561 154 561 154 564 154 564 154 566 154 566 154 567 154 568 154 570 154 570 154 573 154 575 154 575 154 578 154 579 154 579 154 580 154 580 154 584 154 586 154 590 154 595 154 596 154 598 154 601 154 609 154 612 154 613 154 512 155 514 155 524 155 530 155 538 155 539 155 539 155 540 155 542 155 544 155 544 155 547 155 548 155 550 155 553 155 558 155 560 155 562 155 563 155 563 155 565 155 565 155 565 155 565 155 565 155 569 155 569 155 570 155 571 155 573 155 574 155 574 155 575 155 578 155 578 155 582 155 584 155 585 155 588 155 590 155 590 155 591 155 592 155 593 155 601 155 603 155 487 156 495 156 523 156 528 156 534 156 535 156 536 156 536 156 540 156 542 156 542 156 546 156 547 156 549 156 551 156 552 156 553 156 553 156 554 156 555 156 555 156 556 156 557 156 557 156 558 156 559 156 560 156 560 156 561 156 562 156 562 156 562 156 563 156 564 156 565 156 566 156 566 156 566 156 567 156 567 156 567 156 568 156 571 156 571 156 572 156 575 156 575 156 577 156 579 156 580 156 583 156 586 156 587 156 589 156 590 156 599 156 605 156 615 156 499 157 502 157 512 157 528 157 530 157 532 157 535 157 535 157 536 157 536 157 537 157 544 157 545 157 547 157 549 157 549 157 549 157 550 157 555 157 557 157 560 157 564 157 564 157 567 157 568 157 568 157 568 157 571 157 572 157 572 157 577 157 579 157 581 157 581 157 586 157 592 157 592 157 598 157 598 157 599 157 600 157 600 157 603 157 607 157 609 157 610 157 613 157 626 157 508 158 520 158 530 158 531 158 532 158 538 158 539 158 539 158 544 158 544 158 547 158 548 158 549 158 550 158 550 158 551 158 553 158 554 158 555 158 556 158 558 158 558 158 558 158 560 158 560 158 560 158 560 158 561 158 563 158 566 158 567 158 567 158 569 158 572 158 575 158 576 158 579 158 579 158 579 158 584 158 589 158 594 158 601 158 603 158 612 158 628 158 525 159 527 159 528 159 528 159 530 159 530 159 532 159 534 159 535 159 539 159 545 159 548 159 550 159 552 159 553 159 555 159 556 159 556 159 560 159 562 159 564 159 566 159 567 159 567 159 570 159 570 159 570 159 573 159 582 159 583 159 584 159 584 159 584 159 585 159 586 159 587 159 588 159 588 159 589 159 589 159 594 159 595 159 596 159 598 159 604 159 517 160 522 160 525 160 533 160 537 160 539 160 540 160 543 160 544 160 546 160 547 160 549 160 551 160 552 160 554 160 555 160 557 160 559 160 559 160 560 160 562 160 563 160 563 160 563 160 567 160 573 160 573 160 574 160 574 160 574 160 576 160 576 160 577 160 577 160 578 160 579 160 580 160 582 160 585 160 589 160 593 160 593 160 594 160 603 160 613 160 616 160 626 160 507 161 515 161 524 161 527 161 528 161 530 161 530 161 537 161 540 161 540 161 540 161 549 161 553 161 554 161 556 161 556 161 557 161 557 161 557 161 559 161 561 161 564 161 564 161 566 161 568 161 569 161 569 161 569 161 569 161 571 161 572 161 574 161 577 161 580 161 581 161 584 161 586 161 590 161 590 161 591 161 591 161 592 161 598 161 612 161 614 161 615 161 618 161 492 162 495 162 516 162 522 162 523 162 523 162 540 162 541 162 542 162 545 162 545 162 547 162 551 162 551 162 554 162 558 162 559 162 562 162 563 162 565 162 565 162 566 162 567 162 568 162 571 162 571 162 572 162 572 162 572 162 574 162 575 162 575 162 575 162 576 162 576 162 576 162 577 162 577 162 578 162 578 162 578 162 578 162 579 162 582 162 583 162 584 162 584 162 586 162 586 162 586 162 588 162 588 162 592 162 592 162 596 162 598 162 605 162 630 162 510 163 514 163 515 163 515 163 526 163 528 163 532 163 534 163 535 163 539 163 544 163 544 163 547 163 549 163 551 163 554 163 555 163 555 163 560 163 560 163 562 163 567 163 568 163 568 163 571 163 571 163 573 163 576 163 578 163 579 163 579 163 580 163 583 163 586 163 586 163 590 163 592 163 597 163 597 163 599 163 600 163 609 163 610 163 613 163 622 163 626 163 501 164 518 164 520 164 522 164 529 164 535 164 537 164 541 164 541 164 542 164 544 164 545 164 546 164 548 164 550 164 550 164 551 164 551 164 552 164 554 164 558 164 564 164 564 164 565 164 567 164 567 164 567 164 568 164 570 164 571 164 571 164 571 164 571 164 571 164 572 164 575 164 579 164 581 164 581 164 582 164 582 164 582 164 583 164 584 164 585 164 586 164 587 164 588 164 588 164 591 164 600 164 607 164 620 164 510 165 515 165 518 165 519 165 526 165 527 165 529 165 533 165 535 165 537 165 538 165 547 165 549 165 549 165 549 165 550 165 552 165 552 165 553 165 554 165 554 165 554 165 555 165 557 165 558 165 558 165 558 165 559 165 559 165 560 165 562 165 564 165 564 165 564 165 568 165 568 165 569 165 570 165 570 165 571 165 571 165 571 165 572 165 573 165 577 165 578 165 579 165 580 165 582 165 582 165 583 165 583 165 584 165 586 165 588 165 590 165 594 165 595 165 595 165 597 165 599 165 604 165 604 165 606 165 610 165 611 165 621 165 501 166 512 166 519 166 521 166 522 166 529 166 529 166 533 166 537 166 540 166 542 166 544 166 545 166 547 166 547 166 548 166 556 166 558 166 559 166 563 166 564 166 568 166 568 166 568 166 569 166 569 166 570 166 571 166 571 166 573 166 573 166 573 166 574 166 576 166 577 166 578 166 579 166 579 166 580 166 582 166 583 166 584 166 585 166 587 166 588 166 594 166 599 166 602 166 602 166 604 166 605 166 614 166 617 166 531 167 535 167 540 167 541 167 545 167 549 167 549 167 551 167 552 167 553 167 553 167 558 167 558 167 559 167 560 167 563 167 563 167 565 167 566 167 566 167 566 167 567 167 568 167 570 167 570 167 571 167 574 167 575 167 576 167 577 167 580 167 581 167 583 167 583 167 584 167 584 167 585 167 585 167 586 167 586 167 588 167 588 167 591 167 593 167 593 167 594 167 595 167 595 167 596 167 601 167 606 167 606 167 609 167 510 168 512 168 519 168 525 168 541 168 545 168 547 168 548 168 548 168 550 168 551 168 556 168 556 168 557 168 559 168 559 168 560 168 560 168 560 168 564 168 565 168 565 168 567 168 568 168 571 168 572 168 572 168 573 168 576 168 576 168 578 168 579 168 580 168 582 168 583 168 583 168 586 168 586 168 589 168 590 168 591 168 593 168 594 168 595 168 595 168 599 168 615 168 616 168 619 168 624 168 634 168 512 169 527 169 531 169 535 169 535 169 537 169 538 169 540 169 544 169 545 169 546 169 547 169 549 169 549 169 553 169 556 169 556 169 558 169 560 169 561 169 562 169 563 169 563 169 563 169 563 169 564 169 564 169 566 169 567 169 567 169 567 169 567 169 568 169 569 169 570 169 570 169 574 169 575 169 576 169 577 169 577 169 581 169 583 169 585 169 585 169 585 169 593 169 593 169 595 169 595 169 597 169 599 169 614 169 622 169 519 170 522 170 526 170 531 170 534 170 544 170 544 170 547 170 547 170 548 170 548 170 548 170 549 170 551 170 554 170 556 170 556 170 556 170 557 170 557 170 557 170 558 170 559 170 561 170 563 170 563 170 565 170 565 170 565 170 567 170 570 170 570 170 571 170 572 170 572 170 572 170 574 170 575 170 575 170 576 170 577 170 577 170 577 170 578 170 580 170 581 170 581 170 582 170 584 170 588 170 589 170 590 170 591 170 591 170 591 170 592 170 595 170 595 170 595 170 596 170 597 170 603 170 605 170 606 170 626 170 514 171 516 171 519 171 532 171 536 171 537 171 537 171 538 171 539 171 540 171 542 171 542 171 546 171 548 171 550 171 551 171 552 171 555 171 557 171 559 171 559 171 559 171 559 171 560 171 563 171 565 171 566 171 567 171 568 171 570 171 572 171 573 171 573 171 574 171 575 171 575 171 576 171 578 171 579 171 579 171 580 171 584 171 584 171 587 171 587 171 590 171 592 171 592 171 593 171 594 171 599 171 600 171 604 171 605 171 607 171 615 171 513 172 521 172 532 172 537 172 539 172 539 172 540 172 541 172 546 172 552 172 553 172 554 172 554 172 555 172 555 172 556 172 564 172 566 172 566 172 569 172 569 172 573 172 574 172 576 172 576 172 577 172 577 172 578 172 578 172 579 172 584 172 585 172 589 172 589 172 592 172 593 172 593 172 594 172 604 172 623 172 531 173 533 173 540 173 542 173 547 173 547 173 547 173 547 173 549 173 554 173 555 173 556 173 558 173 561 173 561 173 563 173 564 173 567 173 571 173 571 173 572 173 577 173 578 173 590 173 590 173 599 173 601 173 604 173 610 173 497 174 529 174 529 174 530 174 542 174 545 174 546 174 546 174 551 174 551 174 552 174 554 174 556 174 557 174 557 174 558 174 559 174 559 174 560 174 560 174 562 174 562 174 565 174 565 174 565 174 566 174 566 174 567 174 567 174 567 174 570 174 570 174 571 174 572 174 572 174 572 174 572 174 574 174 575 174 575 174 578 174 578 174 579 174 580 174 581 174 583 174 584 174 585 174 586 174 586 174 587 174 588 174 590 174 590 174 591 174 592 174 598 174 599 174 604 174 604 174 606 174 607 174 610 174 613 174 615 174 620 174 496 175 496 175 510 175 527 175 536 175 543 175 546 175 548 175 551 175 555 175 556 175 565 175 565 175 565 175 567 175 569 175 571 175 572 175 573 175 575 175 575 175 576 175 577 175 577 175 579 175 580 175 581 175 582 175 585 175 589 175 591 175 594 175 598 175 602 175 606 175 610 175 615 175 616 175 492 176 505 176 528 176 533 176 535 176 539 176 541 176 543 176 543 176 544 176 546 176 547 176 549 176 550 176 551 176 553 176 553 176 554 176 556 176 557 176 562 176 563 176 565 176 566 176 566 176 566 176 566 176 567 176 567 176 568 176 569 176 569 176 572 176 572 176 573 176 580 176 581 176 584 176 584 176 587 176 587 176 588 176 591 176 592 176 592 176 594 176 598 176 602 176 606 176 609 176 614 176 616 176 621 176 625 176 523 177 531 177 536 177 541 177 547 177 548 177 549 177 550 177 550 177 551 177 553 177 553 177 559 177 559 177 561 177 561 177 561 177 562 177 563 177 565 177 567 177 567 177 570 177 570 177 573 177 574 177 575 177 576 177 576 177 578 177 578 177 583 177 583 177 585 177 585 177 588 177 590 177 591 177 591 177 593 177 600 177 604 177 606 177 609 177 612 177 622 177 628 177 633 177 503 178 517 178 534 178 536 178 546 178 546 178 548 178 553 178 558 178 559 178 560 178 563 178 565 178 567 178 569 178 570 178 570 178 571 178 571 178 572 178 573 178 575 178 577 178 578 178 578 178 579 178 583 178 586 178 587 178 588 178 588 178 589 178 589 178 591 178 594 178 598 178 601 178 607 178 607 178 628 178 496 179 523 179 523 179 531 179 533 179 537 179 538 179 541 179 545 179 546 179 552 179 553 179 554 179 555 179 556 179 556 179 562 179 562 179 563 179 565 179 565 179 566 179 566 179 567 179 568 179 569 179 571 179 571 179 574 179 574 179 575 179 575 179 576 179 577 179 577 179 583 179 586 179 588 179 589 179 591 179 594 179 596 179 608 179 609 179 616 179 619 179 629 179 514 180 524 180 533 180 548 180 548 180 548 180 549 180 549 180 551 180 552 180 560 180 562 180 568 180 569 180 571 180 572 180 572 180 573 180 574 180 575 180 576 180 577 180 579 180 581 180 581 180 581 180 583 180 591 180 592 180 594 180 594 180 594 180 595 180 597 180 597 180 600 180 602 180 607 180 608 180 609 180 522 181 523 181 534 181 534 181 541 181 545 181 545 181 551 181 555 181 556 181 558 181 559 181 559 181 564 181 565 181 568 181 568 181 569 181 570 181 573 181 575 181 576 181 579 181 579 181 583 181 585 181 587 181 587 181 588 181 590 181 591 181 596 181 596 181 597 181 604 181 604 181 607 181 611 181 619 181 524 182 528 182 528 182 536 182 537 182 537 182 538 182 541 182 545 182 546 182 546 182 547 182 547 182 548 182 548 182 549 182 549 182 552 182 554 182 554 182 556 182 558 182 561 182 561 182 562 182 562 182 563 182 565 182 567 182 567 182 568 182 569 182 571 182 574 182 576 182 577 182 580 182 581 182 581 182 583 182 583 182 585 182 586 182 589 182 591 182 591 182 592 182 593 182 595 182 596 182 597 182 602 182 605 182 615 182 617 182 620 182 622 182 639 182 518 183 518 183 519 183 523 183 530 183 530 183 542 183 547 183 547 183 550 183 551 183 552 183 552 183 557 183 558 183 561 183 561 183 562 183 562 183 566 183 567 183 568 183 569 183 569 183 570 183 572 183 573 183 575 183 576 183 576 183 577 183 579 183 580 183 582 183 582 183 584 183 585 183 587 183 591 183 596 183 597 183 605 183 605 183 606 183 492 184 519 184 522 184 527 184 530 184 554 184 557 184 561 184 563 184 563 184 563 184 564 184 566 184 567 184 567 184 567 184 570 184 570 184 574 184 575 184 577 184 577 184 577 184 577 184 578 184 578 184 579 184 579 184 580 184 586 184 587 184 588 184 588 184 588 184 589 184 590 184 591 184 593 184 595 184 595 184 598 184 600 184 603 184 610 184 618 184 623 184 630 184 484 185 497 185 508 185 525 185 528 185 532 185 537 185 540 185 546 185 547 185 549 185 550 185 550 185 556 185 561 185 561 185 564 185 565 185 566 185 566 185 567 185 569 185 570 185 574 185 578 185 579 185 580 185 580 185 584 185 585 185 588 185 589 185 590 185 592 185 592 185 593 185 596 185 602 185 605 185 607 185 490 186 524 186 536 186 539 186 551 186 551 186 554 186 555 186 555 186 557 186 557 186 558 186 559 186 560 186 568 186 568 186 569 186 570 186 571 186 572 186 574 186 575 186 576 186 576 186 577 186 579 186 581 186 581 186 585 186 586 186 586 186 587 186 589 186 598 186 600 186 608 186 612 186 516 187 537 187 537 187 542 187 550 187 552 187 560 187 561 187 563 187 565 187 565 187 566 187 567 187 567 187 568 187 571 187 571 187 572 187 574 187 576 187 576 187 576 187 576 187 577 187 578 187 578 187 579 187 579 187 580 187 583 187 584 187 587 187 588 187 588 187 591 187 597 187 598 187 600 187 601 187 601 187 601 187 604 187 609 187 610 187 622 187 512 188 515 188 529 188 538 188 539 188 560 188 562 188 566 188 567 188 571 188 573 188 574 188 575 188 575 188 583 188 584 188 585 188 586 188 587 188 587 188 588 188 590 188 590 188 594 188 595 188 599 188 604 188 613 188 508 189 523 189 534 189 543 189 545 189 548 189 549 189 556 189 557 189 558 189 560 189 562 189 563 189 563 189 567 189 567 189 568 189 568 189 569 189 574 189 574 189 576 189 576 189 578 189 580 189 581 189 583 189 583 189 585 189 585 189 585 189 585 189 589 189 590 189 593 189 596 189 599 189 607 189 607 189 619 189 522 190 540 190 542 190 545 190 550 190 551 190 553 190 556 190 557 190 564 190 565 190 566 190 567 190 569 190 570 190 570 190 572 190 573 190 573 190 573 190 574 190 575 190 575 190 576 190 576 190 576 190 577 190 583 190 586 190 587 190 589 190 589 190 590 190 591 190 593 190 593 190 594 190 598 190 599 190 601 190 605 190 607 190 617 190 511 191 524 191 552 191 552 191 558 191 560 191 561 191 561 191 562 191 563 191 568 191 570 191 570 191 571 191 571 191 572 191 572 191 575 191 576 191 578 191 579 191 581 191 584 191 589 191 590 191 592 191 594 191 596 191 602 191 603 191 605 191 608 191 609 191 609 191 617 191 636 191 529 192 538 192 543 192 543 192 548 192 550 192 550 192 553 192 554 192 558 192 558 192 560 192 564 192 565 192 566 192 568 192 569 192 570 192 571 192 574 192 574 192 577 192 578 192 578 192 579 192 579 192 581 192 581 192 582 192 582 192 584 192 587 192 591 192 592 192 594 192 596 192 598 192 600 192 600 192 601 192 604 192 615 192 615 192 623 192 629 192 499 193 528 193 552 193 554 193 556 193 557 193 562 193 562 193 565 193 567 193 569 193 571 193 575 193 576 193 577 193 579 193 580 193 582 193 583 193 586 193 587 193 587 193 593 193 595 193 605 193 605 193 607 193 610 193 612 193 501 194 528 194 529 194 533 194 542 194 544 194 554 194 556 194 560 194 562 194 562 194 563 194 568 194 574 194 575 194 578 194 580 194 581 194 582 194 584 194 584 194 584 194 587 194 589 194 590 194 590 194 592 194 593 194 594 194 596 194 599 194 606 194 608 194 614 194 615 194 620 194 621 194 503 195 529 195 539 195 546 195 548 195 552 195 555 195 555 195 557 195 558 195 560 195 563 195 565 195 567 195 568 195 571 195 577 195 578 195 582 195 586 195 587 195 588 195 589 195 594 195 597 195 600 195 600 195 601 195 604 195 606 195 611 195 614 195 618 195 623 195 474 196 531 196 537 196 540 196 543 196 548 196 550 196 558 196 560 196 561 196 562 196 564 196 565 196 566 196 566 196 570 196 572 196 578 196 581 196 581 196 585 196 585 196 586 196 587 196 587 196 588 196 589 196 590 196 591 196 594 196 595 196 597 196 598 196 601 196 601 196 604 196 605 196 620 196 620 196 620 196 640 196 643 196 526 197 546 197 556 197 556 197 560 197 560 197 563 197 564 197 566 197 567 197 567 197 568 197 570 197 570 197 572 197 574 197 575 197 576 197 581 197 582 197 582 197 586 197 587 197 594 197 595 197 595 197 596 197 598 197 599 197 600 197 601 197 606 197 616 197 618 197 626 197 513 198 518 198 521 198 537 198 539 198 542 198 544 198 548 198 550 198 551 198 553 198 553 198 561 198 563 198 564 198 564 198 567 198 568 198 572 198 574 198 578 198 578 198 578 198 579 198 585 198 585 198 588 198 588 198 589 198 593 198 593 198 598 198 600 198 601 198 603 198 614 198 615 198 623 198 500 199 536 199 544 199 548 199 554 199 557 199 559 199 559 199 562 199 563 199 567 199 568 199 569 199 570 199 573 199 575 199 576 199 578 199 578 199 579 199 582 199 583 199 586 199 586 199 592 199 593 199 593 199 594 199 598 199 598 199 599 199 602 199 602 199 604 199 604 199 605 199 607 199 537 200 540 200 543 200 545 200 547 200 549 200 550 200 552 200 555 200 557 200 560 200 560 200 573 200 576 200 576 200 577 200 579 200 581 200 585 200 586 200 587 200 588 200 588 200 595 200 597 200 597 200 601 200 601 200 602 200 604 200 607 200 609 200 609 200 614 200 637 200 513 201 541 201 542 201 549 201 554 201 561 201 561 201 563 201 564 201 564 201 564 201 564 201 564 201 571 201 572 201 573 201 574 201 581 201 582 201 582 201 583 201 585 201 586 201 589 201 590 201 591 201 592 201 593 201 593 201 594 201 595 201 612 201 612 201 621 201 621 201 490 202 529 202 535 202 540 202 542 202 545 202 551 202 556 202 556 202 561 202 562 202 564 202 564 202 566 202 566 202 567 202 568 202 574 202 576 202 576 202 579 202 582 202 589 202 592 202 596 202 597 202 599 202 599 202 599 202 602 202 604 202 604 202 606 202 606 202 615 202 619 202 620 202 533 203 533 203 539 203 549 203 551 203 552 203 552 203 554 203 556 203 563 203 564 203 565 203 568 203 570 203 570 203 574 203 576 203 577 203 580 203 582 203 584 203 585 203 587 203 589 203 595 203 595 203 601 203 604 203 611 203 628 203 633 203 535 204 542 204 545 204 558 204 559 204 561 204 575 204 576 204 579 204 579 204 580 204 585 204 586 204 589 204 591 204 592 204 594 204 595 204 598 204 600 204 603 204 605 204 606 204 609 204 615 204 620 204 622 204 551 205 555 205 558 205 558 205 560 205 561 205 562 205 569 205 572 205 573 205 573 205 574 205 577 205 579 205 579 205 580 205 584 205 585 205 594 205 595 205 597 205 598 205 599 205 600 205 600 205 601 205 602 205 605 205 606 205 610 205 528 206 528 206 540 206 547 206 552 206 557 206 558 206 559 206 560 206 566 206 566 206 568 206 571 206 573 206 579 206 580 206 581 206 583 206 590 206 590 206 597 206 597 206 606 206 606 206 606 206 609 206 620 206 621 206 633 206 552 207 566 207 568 207 576 207 577 207 582 207 587 207 591 207 601 207 602 207 606 207 610 207 623 207 528 208 535 208 538 208 540 208 550 208 555 208 558 208 559 208 560 208 562 208 572 208 572 208 576 208 579 208 580 208 587 208 587 208 587 208 588 208 589 208 589 208 591 208 592 208 593 208 593 208 595 208 602 208 606 208 608 208 613 208 627 208 494 209 534 209 546 209 551 209 552 209 562 209 568 209 569 209 573 209 574 209 579 209 586 209 587 209 587 209 589 209 592 209 598 209 601 209 604 209 609 209 612 209 612 209 481 210 508 210 532 210 556 210 565 210 569 210 571 210 572 210 574 210 582 210 592 210 596 210 612 210 618 210 623 210 513 211 532 211 536 211 563 211 572 211 573 211 574 211 574 211 579 211 582 211 583 211 584 211 584 211 586 211 587 211 588 211 596 211 598 211 598 211 599 211 604 211 605 211 609 211 611 211 515 212 516 212 560 212 565 212 565 212 565 212 568 212 572 212 573 212 574 212 575 212 578 212 579 212 581 212 588 212 589 212 592 212 594 212 598 212 604 212 604 212 608 212 611 212 617 212 623 212 630 212 494 213 531 213 545 213 549 213 558 213 561 213 574 213 580 213 582 213 583 213 585 213 598 213 600 213 605 213 614 213 623 213 496 214 529 214 533 214 540 214 540 214 543 214 557 214 566 214 567 214 570 214 571 214 576 214 578 214 581 214 583 214 584 214 592 214 592 214 599 214 603 214 606 214 607 214 614 214 614 214 616 214 616 214 621 214 491 215 512 215 541 215 552 215 568 215 570 215 570 215 573 215 576 215 586 215 587 215 589 215 592 215 610 215 612 215 508 216 545 216 553 216 556 216 561 216 564 216 569 216 571 216 572 216 572 216 578 216 580 216 580 216 590 216 595 216 596 216 599 216 602 216 609 216 613 216 614 216 614 216 526 217 537 217 545 217 556 217 565 217 574 217 574 217 576 217 579 217 580 217 582 217 583 217 585 217 586 217 590 217 590 217 596 217 596 217 596 217 598 217 599 217 603 217 606 217 607 217 611 217 612 217 612 217 616 217 627 217 506 218 521 218 524 218 552 218 570 218 577 218 584 218 584 218 586 218 587 218 590 218 590 218 590 218 595 218 597 218 602 218 606 218 633 218 633 218 548 219 548 219 551 219 569 219 570 219 577 219 581 219 581 219 593 219 594 219 595 219 596 219 598 219 600 219 601 219 607 219 609 219 614 219 643 219 517 220 554 220 574 220 577 220 581 220 582 220 586 220 590 220 592 220 595 220 598 220 598 220 600 220 603 220 606 220 617 220 624 220 495 221 502 221 506 221 519 221 540 221 544 221 550 221 554 221 571 221 576 221 580 221 584 221 584 221 587 221 587 221 589 221 589 221 593 221 596 221 599 221 601 221 602 221 616 221 549 222 554 222 559 222 567 222 568 222 576 222 581 222 582 222 583 222 584 222 594 222 597 222 607 222 616 222 617 222 636 222 538 223 553 223 556 223 562 223 564 223 567 223 587 223 589 223 599 223 600 223 601 223 601 223 606 223 623 223 628 223 544 224 571 224 574 224 581 224 588 224 601 224 602 224 604 224 605 224 613 224 541 225 557 225 567 225 576 225 577 225 579 225 596 225 609 225 561 226 568 226 569 226 579 226 582 226 582 226 588 226 590 226 596 226 599 226 599 226 603 226 605 226 605 226 607 226 611 226 612 226 526 227 549 227 554 227 567 227 571 227 574 227 591 227 595 227 596 227 598 227 600 227 603 227 605 227 608 227 612 227 613 227 613 227 620 227 495 228 537 228 562 228 569 228 585 228 605 228 609 228 610 228 618 228 635 228 548 229 562 229 577 229 585 229 595 229 599 229 599 229 634 229 527 230 532 230 546 230 556 230 564 230 567 230 568 230 574 230 577 230 587 230 595 230 599 230 604 230 613 230 618 230 630 230 515 231 517 231 533 231 543 231 548 231 549 231 552 231 553 231 557 231 565 231 588 231 589 231 592 231 593 231 596 231 602 231 610 231 612 231 636 231 500 232 523 232 530 232 549 232 561 232 567 232 569 232 575 232 579 232 591 232 595 232 595 232 599 232 608 232 637 232 544 233 557 233 566 233 571 233 578 233 590 233 594 233 594 233 603 233 616 233 627 233 548 234 557 234 561 234 575 234 580 234 587 234 595 234 598 234 610 234 629 234 516 235 538 235 539 235 562 235 573 235 588 235 588 235 591 235 593 235 608 235 619 235 532 236 538 236 560 236 569 236 571 236 574 236 587 236 592 236 599 236 619 236 503 237 537 237 566 237 601 237 609 237 618 237 629 237 498 238 508 238 535 238 536 238 567 238 584 238 591 238 599 238 599 238 601 238 606 238 614 238 498 239 504 239 528 239 556 239 566 239 599 239 603 239 508 240 529 240 560 240 564 240 576 240 580 240 600 240 615 240 618 240 628 240 509 241 563 241 586 241 605 241 536 242 542 242 544 242 561 242 570 242 591 242 605 242 613 242 638 242 509 243 520 243 527 243 541 243 577 243 612 243 613 243 622 243 535 244 539 244 599 244 601 244 605 244 619 244 536 245 558 245 596 245 596 245 621 246 514 247 576 248 498 249 532 249 571 249 620 249 621 249 502 250 569 250 582 250 594 250 597 250 604 250 578 251 603 251 635 251 554 252 558 252 595 252 610 252 527 253 549 253 575 253 579 253 590 253 557 254 593 254 512 255 580 255 616 255 549 256 567 256 609 256 613 256 543 257 568 257 577 257 521 258 599 258 610 258 579 259 585 259 604 259 508 260 523 260 584 260 587 261 519 262 564 262 509 263 594 263 598 263 564 264 548 265 593 265 601 265 582 266 599 268 540 269 547 269 599 269 517 272 582 272 596 272 609 272 579 273 590 273 605 273 543 274 562 274 575 277 572 278 558 280 584 280 565 284 533 35 512 51 664 91 664 115 664 185 466 205 478 210 568 291 594 277 597 286 592 297 610 294 629 271 633 264 666 207 664 210 658 234 658 237 660 238 657 239 676 244 643 178 613 79 613 81 624 89" fill="none" stroke="none" marker-start="url(#q)" marker-mid="url(#q)" marker-end="url(#q)"/></g><g stroke-width="1.3" fill="none" shape-rendering="geometricPrecision"><path d="M41.5 30.8V321.09999999999997" stroke="#555"/><path d="M346.8 30.8V321.09999999999997" stroke="#555"/><path d="M40.85 31.45H347.45" stroke="#555"/><path d="M40.85 320.45H347.45" stroke="#5a5a5a"/><path d="M102.56 31.45v4.5M102.56 320.45v-4.5M163.62 31.45v4.5M163.62 320.45v-4.5M224.68 31.45v4.5M224.68 320.45v-4.5M285.74 31.45v4.5M285.74 320.45v-4.5M41.5 288.34h4.5M346.8 288.34h-4.5M41.5 256.23h4.5M346.8 256.23h-4.5M41.5 224.12h4.5M346.8 224.12h-4.5M41.5 192.01h4.5M346.8 192.01h-4.5M41.5 159.89h4.5M346.8 159.89h-4.5M41.5 127.78h4.5M346.8 127.78h-4.5M41.5 95.67h4.5M346.8 95.67h-4.5M41.5 63.56h4.5M346.8 63.56h-4.5" stroke="#555"/></g><g stroke-width="1.4" fill="none" shape-rendering="geometricPrecision"><path d="M390.5 27.900000000000002V323.45" stroke="#6e6e6e"/><path d="M703.5 27.900000000000002V323.45" stroke="#959595"/><path d="M389.8 28.6H704.2" stroke="#999"/><path d="M389.8 322.75H704.2" stroke="#9a9a9a"/><path d="M429.62 28.6v3.2M429.62 322.75v-3.2M468.75 28.6v3.2M468.75 322.75v-3.2M507.88 28.6v3.2M507.88 322.75v-3.2M547.00 28.6v3.2M547.00 322.75v-3.2M586.12 28.6v3.2M586.12 322.75v-3.2M625.25 28.6v3.2M625.25 322.75v-3.2M664.38 28.6v3.2M664.38 322.75v-3.2M390.5 293.34h3.2M703.5 293.34h-3.2M390.5 263.92h3.2M703.5 263.92h-3.2M390.5 234.50h3.2M703.5 234.50h-3.2M390.5 205.09h3.2M703.5 205.09h-3.2M390.5 175.68h3.2M703.5 175.68h-3.2M390.5 146.26h3.2M703.5 146.26h-3.2M390.5 116.85h3.2M703.5 116.85h-3.2M390.5 87.43h3.2M703.5 87.43h-3.2M390.5 58.01h3.2M703.5 58.01h-3.2" stroke="#7a7a7a"/></g><text transform="translate(30.24 331.00) scale(1.0900 1)" font-size="10.3" letter-spacing="0.352" fill="#000" stroke="#000" stroke-width="0.3" >0.16</text><text transform="translate(91.27 331.00) scale(1.0900 1)" font-size="10.3" letter-spacing="0.352" fill="#000" stroke="#000" stroke-width="0.3" >0.18</text><text transform="translate(155.67 331.00) scale(1.0900 1)" font-size="10.3" letter-spacing="0.369" fill="#000" stroke="#000" stroke-width="0.3" >0.2</text><text transform="translate(213.44 331.00) scale(1.0900 1)" font-size="10.3" letter-spacing="0.351" fill="#000" stroke="#000" stroke-width="0.3" >0.22</text><text transform="translate(274.39 331.00) scale(1.0900 1)" font-size="10.3" letter-spacing="0.354" fill="#000" stroke="#000" stroke-width="0.3" >0.24</text><text transform="translate(335.54 331.00) scale(1.0900 1)" font-size="10.3" letter-spacing="0.352" fill="#000" stroke="#000" stroke-width="0.3" >0.26</text><text transform="translate(23.16 323.90) scale(1.1037 1)" font-size="10.1" letter-spacing="0.403" fill="#000" stroke="#000" stroke-width="0.3" >1.8</text><text transform="translate(33.12 291.79) scale(1.1728 1)" font-size="10.1" fill="#000" stroke="#000" stroke-width="0.3" >2</text><text transform="translate(23.26 259.68) scale(1.1037 1)" font-size="10.1" letter-spacing="0.408" fill="#000" stroke="#000" stroke-width="0.3" >2.2</text><text transform="translate(23.03 227.57) scale(1.1037 1)" font-size="10.1" letter-spacing="0.414" fill="#000" stroke="#000" stroke-width="0.3" >2.4</text><text transform="translate(23.20 195.46) scale(1.1037 1)" font-size="10.1" letter-spacing="0.410" fill="#000" stroke="#000" stroke-width="0.3" >2.6</text><text transform="translate(23.14 163.34) scale(1.1037 1)" font-size="10.1" letter-spacing="0.411" fill="#000" stroke="#000" stroke-width="0.3" >2.8</text><text transform="translate(33.06 131.23) scale(1.1728 1)" font-size="10.1" fill="#000" stroke="#000" stroke-width="0.3" >3</text><text transform="translate(23.26 99.12) scale(1.1037 1)" font-size="10.1" letter-spacing="0.411" fill="#000" stroke="#000" stroke-width="0.3" >3.2</text><text transform="translate(23.02 67.01) scale(1.1037 1)" font-size="10.1" letter-spacing="0.417" fill="#000" stroke="#000" stroke-width="0.3" >3.4</text><text transform="translate(23.20 34.90) scale(1.1037 1)" font-size="10.1" letter-spacing="0.413" fill="#000" stroke="#000" stroke-width="0.3" >3.6</text><text transform="translate(381.24 332.40) scale(1.0180 1)" font-size="9.4" letter-spacing="0.069" fill="#000" stroke="#000" stroke-width="0.3" >0.12</text><text transform="translate(420.27 332.40) scale(1.0180 1)" font-size="9.4" letter-spacing="0.069" fill="#000" stroke="#000" stroke-width="0.3" >0.14</text><text transform="translate(459.46 332.40) scale(1.0180 1)" font-size="9.4" letter-spacing="0.069" fill="#000" stroke="#000" stroke-width="0.3" >0.16</text><text transform="translate(498.56 332.40) scale(1.0180 1)" font-size="9.4" letter-spacing="0.069" fill="#000" stroke="#000" stroke-width="0.3" >0.18</text><text transform="translate(540.42 332.40) scale(1.0180 1)" font-size="9.4" letter-spacing="0.072" fill="#000" stroke="#000" stroke-width="0.3" >0.2</text><text transform="translate(576.86 332.40) scale(1.0180 1)" font-size="9.4" letter-spacing="0.069" fill="#000" stroke="#000" stroke-width="0.3" >0.22</text><text transform="translate(615.89 332.40) scale(1.0180 1)" font-size="9.4" letter-spacing="0.069" fill="#000" stroke="#000" stroke-width="0.3" >0.24</text><text transform="translate(655.09 332.40) scale(1.0180 1)" font-size="9.4" letter-spacing="0.069" fill="#000" stroke="#000" stroke-width="0.3" >0.26</text><text transform="translate(694.19 332.40) scale(1.0180 1)" font-size="9.4" letter-spacing="0.069" fill="#000" stroke="#000" stroke-width="0.3" >0.28</text><text transform="translate(374.52 325.75) scale(1.0000 1)" font-size="9.4" letter-spacing="0.000" fill="#000" stroke="#000" stroke-width="0.3" >1.4</text><text transform="translate(374.66 296.34) scale(1.0000 1)" font-size="9.4" letter-spacing="-0.000" fill="#000" stroke="#000" stroke-width="0.3" >1.6</text><text transform="translate(374.61 266.92) scale(1.0000 1)" font-size="9.4" letter-spacing="0.000" fill="#000" stroke="#000" stroke-width="0.3" >1.8</text><text transform="translate(382.55 237.50) scale(1.0000 1)" font-size="9.4" fill="#000" stroke="#000" stroke-width="0.3" >2</text><text transform="translate(374.70 208.09) scale(1.0000 1)" font-size="9.4" letter-spacing="-0.000" fill="#000" stroke="#000" stroke-width="0.3" >2.2</text><text transform="translate(374.52 178.68) scale(1.0000 1)" font-size="9.4" letter-spacing="0.000" fill="#000" stroke="#000" stroke-width="0.3" >2.4</text><text transform="translate(374.66 149.26) scale(1.0000 1)" font-size="9.4" letter-spacing="-0.000" fill="#000" stroke="#000" stroke-width="0.3" >2.6</text><text transform="translate(374.61 119.85) scale(1.0000 1)" font-size="9.4" letter-spacing="0.000" fill="#000" stroke="#000" stroke-width="0.3" >2.8</text><text transform="translate(382.51 90.43) scale(1.0000 1)" font-size="9.4" fill="#000" stroke="#000" stroke-width="0.3" >3</text><text transform="translate(374.70 61.01) scale(1.0000 1)" font-size="9.4" letter-spacing="0.000" fill="#000" stroke="#000" stroke-width="0.3" >3.2</text><text transform="translate(374.52 31.60) scale(1.0000 1)" font-size="9.4" letter-spacing="0.000" fill="#000" stroke="#000" stroke-width="0.3" >3.4</text><text transform="translate(56.41 19.50) scale(1.0847 1)" font-size="10" letter-spacing="0.249" fill="#000" stroke="#000" stroke-width="0.3" >Shape parameters on the Red Blood Cell for</text><text transform="translate(284.06 19.50) scale(1.6244 1)" font-size="7.925" fill="#333" stroke="#333" stroke-width="0.3" >κ</text><text transform="translate(289.90 23.40) scale(1.0177 1)" font-size="7.826" fill="#444" stroke="#444" stroke-width="0.1" >T</text><text transform="translate(297.62 19.20) scale(1.1546 1)" font-size="10.0" fill="#000" stroke="#000" stroke-width="0.3" >=</text><text transform="translate(307.49 19.40) scale(1.0854 1)" font-size="10.0" fill="#000" stroke="#000" stroke-width="0.3" >10</text><text transform="translate(321.64 14.60) scale(1.0732 1)" font-size="7.0" fill="#000" stroke="#000" stroke-width="0.1" >12</text><text transform="translate(435.00 18.30) scale(1.0773 1)" font-size="8.2" letter-spacing="0.186" fill="#000" stroke="#000" stroke-width="0.25" >Shape parameters on the double-torus for</text><text transform="translate(609.16 18.30) scale(1.6371 1)" font-size="6.038" fill="#333" stroke="#333" stroke-width="0.1" >κ</text><text transform="translate(613.71 22.50) scale(0.9951 1)" font-size="7.826" fill="#444" stroke="#444" stroke-width="0.05" >T</text><text transform="translate(620.43 18.53) scale(1.1240 1)" font-size="8.438" fill="#000" stroke="#000" stroke-width="0.1" >=</text><text transform="translate(628.12 18.22) scale(1.2349 1)" font-size="7.746" fill="#000" stroke="#000" stroke-width="0.15" >6</text><text transform="translate(633.55 18.97) scale(1.1291 1)" font-size="6.966" fill="#444" stroke="#444" stroke-width="0.05" >×</text><text transform="translate(637.62 18.22) scale(1.3494 1)" font-size="7.746" fill="#000" stroke="#000" stroke-width="0.15" >10</text><path d="M650.7 11.1L652 9.9V14.2M653.8 11.1L655.1 9.9V14.2" stroke="#333" stroke-width="0.8" fill="none" shape-rendering="geometricPrecision"/><text transform="translate(161.72 342.50) scale(1.0736 1)" font-size="10" letter-spacing="0.210" fill="#000" stroke="#000" stroke-width="0.3" >Stencil width</text><text transform="translate(520.59 342.75) scale(1.0255 1)" font-size="8.8" letter-spacing="0.067" fill="#000" stroke="#000" stroke-width="0.3" >Stencil width</text><text transform="translate(16.70 240.66) rotate(-90) scale(1.0064 1)" font-size="10.1" stroke="#000" stroke-width="0.3">Optimized shape parameters</text><text transform="translate(369.80 232.91) rotate(-90) scale(1.0179 1)" font-size="8.9" stroke="#000" stroke-width="0.3">Optimized shape parameters</text></svg></body></html>
